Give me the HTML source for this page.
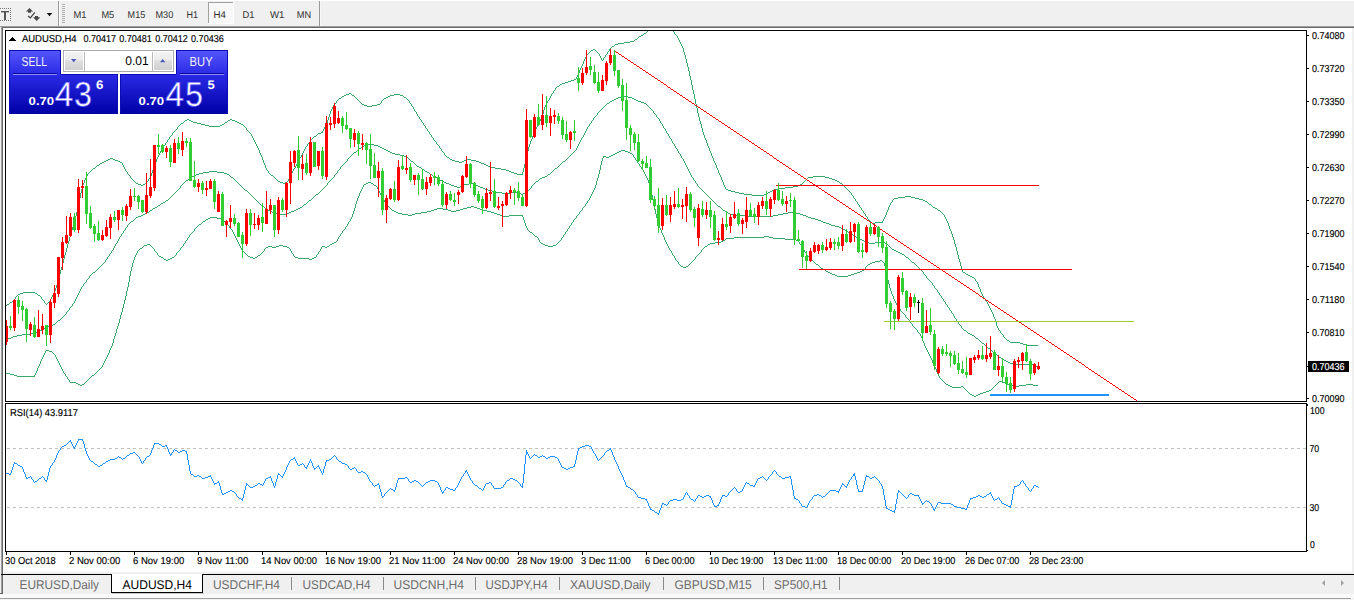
<!DOCTYPE html>
<html><head><meta charset="utf-8"><title>AUDUSD,H4</title>
<style>
html,body{margin:0;padding:0;background:#fff;}
body{width:1354px;height:600px;position:relative;overflow:hidden;font-family:"Liberation Sans",sans-serif;}
svg{position:absolute;left:0;top:0;display:block;}
text{font-family:"Liberation Sans",sans-serif;text-rendering:geometricPrecision;}
.s{font-size:10px;fill:#000;stroke:#000;stroke-width:0.15px;}
.tb{font-size:9.8px;fill:#303030;}
.tab{font-size:12.6px;fill:#6d6d6d;}
</style></head><body>
<svg width="1354" height="600" viewBox="0 0 1354 600">
<defs>
<clipPath id="cm"><rect x="6" y="31" width="1300" height="370"/></clipPath>
<clipPath id="cr"><rect x="6" y="404" width="1300" height="147"/></clipPath>
<linearGradient id="gb" x1="0" y1="0" x2="0" y2="1">
<stop offset="0" stop-color="#5656fb"/><stop offset="0.38" stop-color="#2a2ae6"/><stop offset="1" stop-color="#0000a6"/></linearGradient>
<linearGradient id="gbU" gradientUnits="userSpaceOnUse" x1="0" y1="50" x2="0" y2="114">
<stop offset="0" stop-color="#5656fb"/><stop offset="0.38" stop-color="#2a2ae6"/><stop offset="1" stop-color="#0000a6"/></linearGradient>
<linearGradient id="gs" x1="0" y1="0" x2="0" y2="1">
<stop offset="0" stop-color="#f3f3f3"/><stop offset="0.42" stop-color="#ebebeb"/><stop offset="0.5" stop-color="#dedede"/><stop offset="1" stop-color="#d0d0d0"/></linearGradient>
</defs>

<g shape-rendering="crispEdges">
<rect x="0" y="0" width="1354" height="26" fill="#f0f0f0"/>
<rect x="0" y="0" width="1354" height="1" fill="#fff"/>
<rect x="0" y="26" width="1354" height="1" fill="#a0a0a0"/>
<rect x="1" y="27" width="1353" height="1" fill="#696969"/>
<rect x="0" y="27" width="1" height="567" fill="#f0f0f0"/>
<rect x="1" y="27" width="1" height="566" fill="#a0a0a0"/>
<rect x="2" y="28" width="1" height="565" fill="#696969"/>
<rect x="1352" y="28" width="2" height="572" fill="#f0f0f0"/>
<rect x="3" y="572" width="1349" height="2" fill="#f0f0f0"/>
<rect x="1" y="574" width="1353" height="1" fill="#000"/>
<rect x="3" y="575" width="1349" height="19" fill="#f0f0f0"/>
<rect x="0" y="593" width="3" height="1" fill="#696969"/>
<rect x="0" y="594" width="1354" height="4" fill="#fafafa"/>
<rect x="0" y="598" width="1351" height="1" fill="#a0a0a0"/>
<rect x="0" y="599" width="1354" height="1" fill="#f4f4f4"/>
<rect x="112" y="574" width="91" height="19" fill="#fff"/>
<rect x="111" y="574" width="1" height="19" fill="#000"/>
<rect x="202" y="574" width="1" height="19" fill="#000"/>
<rect x="111" y="592" width="92" height="1" fill="#000"/>
<rect x="112" y="593" width="92" height="1" fill="#c8c8c8"/>
<rect x="291" y="577" width="1" height="13" fill="#8a8a8a"/>
<rect x="383" y="577" width="1" height="13" fill="#8a8a8a"/>
<rect x="475" y="577" width="1" height="13" fill="#8a8a8a"/>
<rect x="559" y="577" width="1" height="13" fill="#8a8a8a"/>
<rect x="663" y="577" width="1" height="13" fill="#8a8a8a"/>
<rect x="763" y="577" width="1" height="13" fill="#8a8a8a"/>
<rect x="839" y="577" width="1" height="13" fill="#8a8a8a"/>
<rect x="5" y="30" width="1302" height="1" fill="#000"/>
<rect x="5" y="401" width="1302" height="1" fill="#000"/>
<rect x="5" y="403" width="1302" height="1" fill="#000"/>
<rect x="5" y="551" width="1302" height="1" fill="#000"/>
<rect x="5" y="30" width="1" height="372" fill="#000"/>
<rect x="5" y="403" width="1" height="149" fill="#000"/>
<rect x="1306" y="30" width="1" height="372" fill="#000"/>
<rect x="1306" y="403" width="1" height="149" fill="#000"/>
<rect x="1307" y="35" width="2" height="1" fill="#000"/>
<rect x="1307" y="68" width="2" height="1" fill="#000"/>
<rect x="1307" y="101" width="2" height="1" fill="#000"/>
<rect x="1307" y="134" width="2" height="1" fill="#000"/>
<rect x="1307" y="167" width="2" height="1" fill="#000"/>
<rect x="1307" y="200" width="2" height="1" fill="#000"/>
<rect x="1307" y="233" width="2" height="1" fill="#000"/>
<rect x="1307" y="266" width="2" height="1" fill="#000"/>
<rect x="1307" y="299" width="2" height="1" fill="#000"/>
<rect x="1307" y="332" width="2" height="1" fill="#000"/>
<rect x="1307" y="398" width="2" height="1" fill="#000"/>
<rect x="1307" y="404" width="1" height="2" fill="#000"/>
<rect x="1307" y="550" width="1" height="1" fill="#000"/>
<rect x="6" y="552" width="1" height="3" fill="#000"/>
<rect x="70" y="552" width="1" height="3" fill="#000"/>
<rect x="134" y="552" width="1" height="3" fill="#000"/>
<rect x="198" y="552" width="1" height="3" fill="#000"/>
<rect x="262" y="552" width="1" height="3" fill="#000"/>
<rect x="326" y="552" width="1" height="3" fill="#000"/>
<rect x="390" y="552" width="1" height="3" fill="#000"/>
<rect x="454" y="552" width="1" height="3" fill="#000"/>
<rect x="518" y="552" width="1" height="3" fill="#000"/>
<rect x="582" y="552" width="1" height="3" fill="#000"/>
<rect x="646" y="552" width="1" height="3" fill="#000"/>
<rect x="710" y="552" width="1" height="3" fill="#000"/>
<rect x="774" y="552" width="1" height="3" fill="#000"/>
<rect x="838" y="552" width="1" height="3" fill="#000"/>
<rect x="902" y="552" width="1" height="3" fill="#000"/>
<rect x="966" y="552" width="1" height="3" fill="#000"/>
<rect x="1030" y="552" width="1" height="3" fill="#000"/>
<rect x="1308" y="361" width="41" height="11" fill="#000"/>
<rect x="1307" y="366" width="2" height="1" fill="#000"/>
<rect x="58" y="1" width="1" height="25" fill="#9a9a9a"/><rect x="59" y="1" width="1" height="25" fill="#fff"/>
<rect x="319" y="1" width="1" height="25" fill="#9a9a9a"/><rect x="320" y="1" width="1" height="25" fill="#f8f8f8"/>
<rect x="62" y="4" width="3" height="1" fill="#b0b0b0"/>
<rect x="62" y="6" width="3" height="1" fill="#b0b0b0"/>
<rect x="62" y="8" width="3" height="1" fill="#b0b0b0"/>
<rect x="62" y="10" width="3" height="1" fill="#b0b0b0"/>
<rect x="62" y="12" width="3" height="1" fill="#b0b0b0"/>
<rect x="62" y="14" width="3" height="1" fill="#b0b0b0"/>
<rect x="62" y="16" width="3" height="1" fill="#b0b0b0"/>
<rect x="62" y="18" width="3" height="1" fill="#b0b0b0"/>
<rect x="62" y="20" width="3" height="1" fill="#b0b0b0"/>
<rect x="62" y="22" width="3" height="1" fill="#b0b0b0"/>
<rect x="208" y="2" width="25" height="22" fill="#f8f8f8"/>
<rect x="208" y="2" width="25" height="1" fill="#a0a0a0"/><rect x="208" y="2" width="1" height="22" fill="#a0a0a0"/>
<rect x="208" y="23" width="26" height="1" fill="#fff"/><rect x="233" y="2" width="1" height="22" fill="#fff"/>
</g>
<g shape-rendering="crispEdges" fill="#555">
<rect x="1" y="11" width="8" height="1"/><rect x="1" y="12" width="8" height="1" fill="#b8b8b8"/><rect x="4" y="11" width="2" height="9"/>
<rect x="0" y="8" width="1" height="1" fill="#777"/><rect x="0" y="20" width="1" height="1" fill="#777"/>
<rect x="2" y="8" width="1" height="1" fill="#777"/><rect x="2" y="20" width="1" height="1" fill="#777"/>
<rect x="4" y="8" width="1" height="1" fill="#777"/><rect x="4" y="20" width="1" height="1" fill="#777"/>
<rect x="6" y="8" width="1" height="1" fill="#777"/><rect x="6" y="20" width="1" height="1" fill="#777"/>
<rect x="8" y="8" width="1" height="1" fill="#777"/><rect x="8" y="20" width="1" height="1" fill="#777"/>
<rect x="10" y="8" width="1" height="1" fill="#777"/><rect x="10" y="20" width="1" height="1" fill="#777"/>
<rect x="10" y="8" width="1" height="1" fill="#777"/>
<rect x="10" y="10" width="1" height="1" fill="#777"/>
<rect x="10" y="12" width="1" height="1" fill="#777"/>
<rect x="10" y="14" width="1" height="1" fill="#777"/>
<rect x="10" y="16" width="1" height="1" fill="#777"/>
<rect x="10" y="18" width="1" height="1" fill="#777"/>
<rect x="10" y="20" width="1" height="1" fill="#777"/>
</g>
<g fill="#4a4a4a">
<path d="M29.5 8 L33 11.5 L31 11.5 L31 12.8 L28 12.8 L28 11.5 L26 11.5 Z"/>
<path d="M35 16 L38 16 L38 17.3 L40.3 17.3 L36.7 21 L33 17.3 L35 17.3 Z"/>
<path d="M28 15.9 L30.4 17.8 L34.8 12.4" stroke="#4a4a4a" stroke-width="1.3" fill="none"/>
<path d="M46.7 13 L52.3 13 L49.5 16.2 Z" fill="#111"/>
</g>
<g clip-path="url(#cm)" shape-rendering="crispEdges">
<path d="M509 171h2v1h-2zM491 167h4v1h-4zM919 199h4v1h-4zM793 186h5v1h-5zM108 159h2v1h-2zM113 159h2v1h-2zM450 159h2v1h-2zM466 159h5v1h-5zM97 165h2v1h-2zM486 165h2v1h-2zM933 207h2v1h-2zM562 83h3v1h-3zM514 173h3v1h-3zM752 195h12v1h-12zM488 166h3v1h-3zM314 136h2v1h-2zM728 190h3v1h-3zM772 190h2v1h-2zM20 293h3v1h-3zM35 293h2v1h-2zM511 172h3v1h-3zM813 176h12v1h-12zM318 133h3v1h-3zM209 126h11v1h-11zM630 41h4v1h-4zM23 292h12v1h-12zM639 36h2v1h-2zM201 124h4v1h-4zM222 124h2v1h-2zM241 124h2v1h-2zM731 191h4v1h-4zM770 191h2v1h-2zM102 162h2v1h-2zM120 162h2v1h-2zM459 162h3v1h-3zM479 162h2v1h-2zM104 161h2v1h-2zM118 161h2v1h-2zM455 161h4v1h-4zM462 161h2v1h-2zM476 161h3v1h-3zM205 125h4v1h-4zM220 125h2v1h-2zM875 222h8v1h-8zM106 160h2v1h-2zM115 160h3v1h-3zM452 160h3v1h-3zM464 160h2v1h-2zM471 160h5v1h-5zM93 168h2v1h-2zM495 168h6v1h-6zM38 295h2v1h-2zM364 105h3v1h-3zM372 105h5v1h-5zM339 98h2v1h-2zM384 98h2v1h-2zM136 183h2v1h-2zM283 183h2v1h-2zM840 183h2v1h-2zM963 272h2v1h-2zM832 179h3v1h-3zM612 46h2v1h-2zM138 184h3v1h-3zM143 184h2v1h-2zM800 184h2v1h-2zM726 189h2v1h-2zM774 189h4v1h-4zM344 95h2v1h-2zM352 95h2v1h-2zM390 95h4v1h-4zM400 95h3v1h-3zM624 42h6v1h-6zM342 96h2v1h-2zM388 96h2v1h-2zM506 170h3v1h-3zM191 121h2v1h-2zM235 121h2v1h-2zM447 157h2v1h-2zM185 120h2v1h-2zM189 120h2v1h-2zM228 120h2v1h-2zM232 120h3v1h-3zM517 174h6v1h-6zM280 182h3v1h-3zM285 182h2v1h-2zM1010 342h10v1h-10zM593 49h2v1h-2zM898 197h7v1h-7zM911 197h4v1h-4zM735 192h4v1h-4zM768 192h2v1h-2zM618 43h6v1h-6zM657 23h2v1h-2zM662 23h2v1h-2zM484 164h2v1h-2zM278 181h2v1h-2zM837 181h2v1h-2zM557 86h2v1h-2zM905 196h6v1h-6zM972 277h2v1h-2zM938 210h2v1h-2zM655 24h2v1h-2zM664 24h2v1h-2zM571 80h3v1h-3zM193 122h4v1h-4zM225 122h2v1h-2zM237 122h2v1h-2zM894 198h4v1h-4zM915 198h4v1h-4zM367 106h5v1h-5zM1007 340h2v1h-2zM1027 345h11v1h-11zM778 188h7v1h-7zM835 180h2v1h-2zM829 178h3v1h-3zM785 187h8v1h-8zM346 94h3v1h-3zM394 94h6v1h-6zM615 44h3v1h-3zM362 104h2v1h-2zM377 104h3v1h-3zM966 274h2v1h-2zM110 158h3v1h-3zM501 169h5v1h-5zM349 93h2v1h-2zM187 119h2v1h-2zM230 119h2v1h-2zM1020 343h3v1h-3zM271 175h2v1h-2zM968 275h2v1h-2zM635 39h2v1h-2zM181 123h2v1h-2zM197 123h4v1h-4zM239 123h2v1h-2zM321 132h2v1h-2zM641 35h2v1h-2zM18 294h2v1h-2zM739 193h5v1h-5zM766 193h2v1h-2zM1023 344h4v1h-4zM659 22h3v1h-3zM560 84h2v1h-2zM808 177h5v1h-5zM825 177h4v1h-4zM935 208h2v1h-2zM872 223h3v1h-3zM970 276h2v1h-2zM929 204h2v1h-2zM10 302h2v1h-2zM923 200h2v1h-2zM100 163h2v1h-2zM481 163h3v1h-3zM925 201h2v1h-2zM386 97h2v1h-2zM404 97h2v1h-2zM565 82h3v1h-3zM7 304h2v1h-2zM653 25h2v1h-2zM666 25h2v1h-2zM744 194h8v1h-8zM764 194h2v1h-2zM574 79h2v1h-2zM591 50h2v1h-2zM644 33h2v1h-2zM568 81h3v1h-3zM141 185h2v1h-2zM798 185h2v1h-2zM886 212h1v3h-1zM69 237h1v4h-1zM523 168h1v4h-1zM579 70h1v3h-1zM804 181h1v1h-1zM57 282h1v3h-1zM990 308h1v2h-1zM958 255h1v4h-1zM254 140h1v2h-1zM706 140h1v3h-1zM536 127h1v2h-1zM296 164h1v2h-1zM860 207h1v1h-1zM714 161h1v2h-1zM328 117h1v3h-1zM954 240h1v4h-1zM151 173h1v3h-1zM407 99h1v1h-1zM41 297h1v2h-1zM154 164h1v3h-1zM864 213h1v1h-1zM699 117h1v4h-1zM682 46h1v2h-1zM607 52h1v2h-1zM882 221h1v1h-1zM692 85h1v5h-1zM251 134h1v2h-1zM77 207h1v5h-1zM68 241h1v3h-1zM408 100h1v1h-1zM82 185h1v4h-1zM56 285h1v3h-1zM429 132h1v2h-1zM957 251h1v4h-1zM683 48h1v4h-1zM602 60h1v1h-1zM167 140h1v2h-1zM292 171h1v2h-1zM703 132h1v3h-1zM961 266h1v4h-1zM551 94h1v2h-1zM950 229h1v2h-1zM721 177h1v3h-1zM327 120h1v3h-1zM85 178h1v2h-1zM887 210h1v2h-1zM433 138h1v2h-1zM679 40h1v2h-1zM689 71h1v5h-1zM951 231h1v3h-1zM60 270h1v4h-1zM540 119h1v2h-1zM531 139h1v2h-1zM543 110h1v4h-1zM64 255h1v4h-1zM326 123h1v2h-1zM986 301h1v1h-1zM547 101h1v2h-1zM989 306h1v2h-1zM155 162h1v2h-1zM253 138h1v2h-1zM705 138h1v2h-1zM243 125h1v1h-1zM713 158h1v3h-1zM867 217h1v2h-1zM982 294h1v2h-1zM859 205h1v2h-1zM17 295h1v1h-1zM979 287h1v2h-1zM648 30h1v1h-1zM411 104h1v2h-1zM73 223h1v4h-1zM432 137h1v1h-1zM40 296h1v1h-1zM150 176h1v2h-1zM322 131h1v1h-1zM250 133h1v1h-1zM527 151h1v4h-1zM436 142h1v2h-1zM674 32h1v2h-1zM709 148h1v3h-1zM601 58h1v2h-1zM842 184h1v1h-1zM965 273h1v1h-1zM311 139h1v1h-1zM80 193h1v5h-1zM949 226h1v3h-1zM578 73h1v2h-1zM702 128h1v4h-1zM720 175h1v2h-1zM685 55h1v4h-1zM675 34h1v1h-1zM81 189h1v4h-1zM55 288h1v3h-1zM170 136h1v1h-1zM261 155h1v2h-1zM526 155h1v4h-1zM47 303h1v1h-1zM330 111h1v3h-1zM403 96h1v1h-1zM583 61h1v3h-1zM651 27h1v1h-1zM153 167h1v3h-1zM849 191h1v1h-1zM691 80h1v5h-1zM716 165h1v3h-1zM985 299h1v2h-1zM953 237h1v3h-1zM76 212h1v4h-1zM354 96h1v1h-1zM586 55h1v2h-1zM863 211h1v2h-1zM268 171h1v2h-1zM866 216h1v1h-1zM178 126h1v1h-1zM978 284h1v3h-1zM996 322h1v4h-1zM410 103h1v1h-1zM431 135h1v2h-1zM723 182h1v3h-1zM414 109h1v2h-1zM360 102h1v1h-1zM63 259h1v4h-1zM698 113h1v4h-1zM960 262h1v4h-1zM161 149h1v2h-1zM695 99h1v5h-1zM530 141h1v3h-1zM605 55h1v2h-1zM678 38h1v2h-1zM608 51h1v1h-1zM72 227h1v3h-1zM435 141h1v1h-1zM361 103h1v1h-1zM542 114h1v3h-1zM708 146h1v2h-1zM173 132h1v1h-1zM227 121h1v1h-1zM956 247h1v4h-1zM885 215h1v2h-1zM334 104h1v1h-1zM446 156h1v1h-1zM993 314h1v3h-1zM701 124h1v4h-1zM719 173h1v2h-1zM260 153h1v2h-1zM535 129h1v2h-1zM803 182h1v1h-1zM71 230h1v4h-1zM293 169h1v2h-1zM59 274h1v4h-1zM848 190h1v1h-1zM380 103h1v1h-1zM383 99h1v1h-1zM550 96h1v2h-1zM715 163h1v2h-1zM9 303h1v1h-1zM1000 331h1v2h-1zM54 291h1v2h-1zM409 101h1v2h-1zM417 114h1v2h-1zM310 140h1v2h-1zM681 44h1v2h-1zM134 181h1v1h-1zM1006 339h1v1h-1zM577 75h1v2h-1zM673 31h1v1h-1zM305 147h1v2h-1zM722 180h1v2h-1zM325 125h1v2h-1zM712 156h1v2h-1zM43 300h1v1h-1zM337 100h1v1h-1zM537 125h1v2h-1zM522 172h1v2h-1zM525 159h1v5h-1zM263 160h1v3h-1zM590 51h1v1h-1zM806 179h1v1h-1zM546 103h1v2h-1zM329 114h1v3h-1zM75 216h1v4h-1zM892 200h1v2h-1zM585 57h1v2h-1zM341 97h1v1h-1zM99 164h1v1h-1zM50 299h1v2h-1zM88 173h1v1h-1zM688 67h1v4h-1zM301 155h1v2h-1zM684 52h1v3h-1zM177 127h1v2h-1zM133 180h1v1h-1zM67 244h1v4h-1zM888 207h1v3h-1zM13 300h1v1h-1zM534 131h1v3h-1zM16 296h1v1h-1zM694 94h1v5h-1zM931 205h1v1h-1zM160 151h1v2h-1zM252 136h1v2h-1zM84 180h1v3h-1zM58 278h1v4h-1zM704 135h1v3h-1zM687 63h1v4h-1zM604 57h1v1h-1zM169 137h1v2h-1zM999 330h1v1h-1zM172 133h1v2h-1zM413 107h1v2h-1zM149 178h1v1h-1zM680 42h1v2h-1zM297 162h1v2h-1zM416 112h1v2h-1zM333 105h1v2h-1zM42 299h1v1h-1zM152 170h1v3h-1zM974 278h1v1h-1zM262 157h1v3h-1zM70 234h1v3h-1zM995 319h1v3h-1zM83 183h1v2h-1zM677 36h1v2h-1zM549 98h1v2h-1zM274 177h1v1h-1zM126 171h1v1h-1zM288 179h1v2h-1zM697 108h1v5h-1zM62 263h1v4h-1zM266 168h1v2h-1zM851 193h1v2h-1zM693 90h1v4h-1zM541 117h1v2h-1zM66 248h1v4h-1zM553 91h1v2h-1zM690 76h1v4h-1zM324 127h1v2h-1zM79 198h1v5h-1zM884 217h1v2h-1zM313 137h1v1h-1zM336 101h1v2h-1zM865 214h1v2h-1zM419 117h1v2h-1zM545 105h1v2h-1zM356 98h1v1h-1zM686 59h1v4h-1zM711 153h1v3h-1zM412 106h1v1h-1zM980 289h1v3h-1zM420 119h1v1h-1zM584 59h1v2h-1zM869 220h1v1h-1zM524 164h1v4h-1zM49 301h1v1h-1zM423 123h1v2h-1zM952 234h1v3h-1zM87 174h1v2h-1zM273 176h1v1h-1zM308 143h1v1h-1zM994 317h1v2h-1zM300 157h1v1h-1zM843 185h1v1h-1zM718 170h1v3h-1zM650 28h1v1h-1zM544 107h1v3h-1zM955 244h1v3h-1zM707 143h1v3h-1zM588 53h1v1h-1zM438 145h1v1h-1zM259 150h1v3h-1zM53 293h1v2h-1zM948 223h1v3h-1zM533 134h1v2h-1zM125 169h1v2h-1zM700 121h1v3h-1zM180 124h1v1h-1zM122 163h1v2h-1zM643 34h1v1h-1zM304 149h1v2h-1zM603 58h1v2h-1zM998 328h1v2h-1zM696 104h1v4h-1zM244 126h1v1h-1zM868 219h1v1h-1zM265 165h1v3h-1zM850 192h1v1h-1zM163 146h1v2h-1zM941 212h1v1h-1zM528 147h1v4h-1zM891 202h1v1h-1zM725 187h1v2h-1zM175 130h1v1h-1zM355 97h1v1h-1zM556 87h1v1h-1zM962 270h1v2h-1zM415 111h1v1h-1zM669 27h1v1h-1zM78 203h1v4h-1zM90 171h1v1h-1zM532 136h1v3h-1zM269 173h1v1h-1zM44 301h1v2h-1zM65 252h1v3h-1zM437 144h1v1h-1zM45 303h1v1h-1zM805 180h1v1h-1zM977 282h1v2h-1zM295 166h1v2h-1zM159 153h1v2h-1zM676 35h1v1h-1zM441 149h1v2h-1zM15 297h1v2h-1zM382 100h1v1h-1zM74 220h1v3h-1zM148 179h1v2h-1zM552 93h1v1h-1zM991 310h1v2h-1zM883 219h1v2h-1zM332 107h1v2h-1zM576 77h1v2h-1zM291 173h1v2h-1zM853 196h1v2h-1zM940 211h1v1h-1zM997 326h1v2h-1zM37 294h1v1h-1zM135 182h1v1h-1zM857 202h1v2h-1zM307 144h1v2h-1zM668 26h1v1h-1zM724 185h1v2h-1zM1001 333h1v1h-1zM61 267h1v3h-1zM548 100h1v1h-1zM839 182h1v1h-1zM637 38h1v1h-1zM595 50h1v1h-1zM610 48h1v1h-1zM287 181h1v1h-1zM975 279h1v2h-1zM52 295h1v2h-1zM976 281h1v1h-1zM303 151h1v2h-1zM323 129h1v2h-1zM440 148h1v1h-1zM124 167h1v2h-1zM127 172h1v2h-1zM351 94h1v1h-1zM128 174h1v1h-1zM86 176h1v2h-1zM717 168h1v2h-1zM932 206h1v1h-1zM258 148h1v2h-1zM983 296h1v2h-1zM299 158h1v2h-1zM947 221h1v2h-1zM166 142h1v1h-1zM418 116h1v1h-1zM146 182h1v1h-1zM421 120h1v2h-1zM158 155h1v2h-1zM539 121h1v2h-1zM582 64h1v2h-1zM422 122h1v1h-1zM614 45h1v1h-1zM871 222h1v1h-1zM331 109h1v2h-1zM587 54h1v1h-1zM444 153h1v2h-1zM555 88h1v2h-1zM123 165h1v2h-1zM845 187h1v1h-1zM928 203h1v1h-1zM890 203h1v2h-1zM335 103h1v1h-1zM224 123h1v1h-1zM807 178h1v1h-1zM246 128h1v2h-1zM606 54h1v1h-1zM852 195h1v1h-1zM267 170h1v1h-1zM48 302h1v1h-1zM264 163h1v2h-1zM89 172h1v1h-1zM247 130h1v1h-1zM6 305h1v1h-1zM870 221h1v1h-1zM425 126h1v2h-1zM652 26h1v1h-1zM1004 337h1v1h-1zM357 99h1v1h-1zM439 146h1v2h-1zM290 175h1v2h-1zM275 178h1v1h-1zM992 312h1v2h-1zM298 160h1v2h-1zM162 148h1v1h-1zM165 143h1v2h-1zM92 169h1v1h-1zM609 49h1v2h-1zM174 131h1v1h-1zM257 146h1v2h-1zM946 219h1v2h-1zM855 199h1v2h-1zM131 178h1v1h-1zM338 99h1v1h-1zM51 297h1v2h-1zM1003 335h1v2h-1zM317 134h1v1h-1zM559 85h1v1h-1zM856 201h1v1h-1zM302 153h1v2h-1zM942 213h1v1h-1zM294 168h1v1h-1zM424 125h1v1h-1zM943 214h1v1h-1zM670 28h1v1h-1zM671 29h1v1h-1zM844 186h1v1h-1zM428 131h1v1h-1zM927 202h1v1h-1zM598 53h1v1h-1zM442 151h1v1h-1zM959 259h1v3h-1zM157 157h1v2h-1zM184 121h1v1h-1zM647 31h1v1h-1zM538 123h1v2h-1zM443 152h1v1h-1zM96 166h1v1h-1zM130 176h1v2h-1zM306 146h1v1h-1zM245 127h1v1h-1zM893 199h1v1h-1zM256 144h1v2h-1zM945 217h1v2h-1zM854 198h1v1h-1zM449 158h1v1h-1zM406 98h1v1h-1zM289 177h1v2h-1zM427 129h1v2h-1zM270 174h1v1h-1zM156 159h1v3h-1zM46 304h1v1h-1zM889 205h1v2h-1zM596 51h1v1h-1zM802 183h1v1h-1zM597 52h1v1h-1zM529 144h1v3h-1zM554 90h1v1h-1zM937 209h1v1h-1zM12 301h1v1h-1zM168 139h1v1h-1zM145 183h1v1h-1zM988 304h1v2h-1zM581 66h1v2h-1zM858 204h1v1h-1zM981 292h1v2h-1zM1002 334h1v1h-1zM248 131h1v1h-1zM589 52h1v1h-1zM862 210h1v1h-1zM249 132h1v1h-1zM600 56h1v2h-1zM1009 341h1v1h-1zM445 155h1v1h-1zM129 175h1v1h-1zM309 142h1v1h-1zM312 138h1v1h-1zM277 180h1v1h-1zM861 208h1v2h-1zM984 298h1v1h-1zM987 302h1v2h-1zM847 189h1v1h-1zM255 142h1v2h-1zM944 215h1v2h-1zM381 101h1v2h-1zM426 128h1v1h-1zM649 29h1v1h-1zM710 151h1v2h-1zM176 129h1v1h-1zM179 125h1v1h-1zM599 54h1v2h-1zM430 134h1v1h-1zM164 145h1v1h-1zM359 101h1v1h-1zM91 170h1v1h-1zM634 40h1v1h-1zM580 68h1v2h-1zM611 47h1v1h-1zM846 188h1v1h-1zM646 32h1v1h-1zM95 167h1v1h-1zM171 135h1v1h-1zM316 135h1v1h-1zM132 179h1v1h-1zM1005 338h1v1h-1zM358 100h1v1h-1zM14 299h1v1h-1zM147 181h1v1h-1zM183 122h1v1h-1zM434 140h1v1h-1zM672 30h1v1h-1zM276 179h1v1h-1zM638 37h1v1h-1z" fill="#36a868"/>
<path d="M13 336h4v1h-4zM823 222h3v1h-3zM245 190h2v1h-2zM488 190h4v1h-4zM150 210h2v1h-2zM268 210h2v1h-2zM294 210h2v1h-2zM723 210h2v1h-2zM145 213h2v1h-2zM274 213h3v1h-3zM286 213h3v1h-3zM728 213h2v1h-2zM783 213h5v1h-5zM795 213h5v1h-5zM141 215h2v1h-2zM733 215h13v1h-13zM773 215h5v1h-5zM803 215h3v1h-3zM446 183h3v1h-3zM469 183h5v1h-5zM58 320h2v1h-2zM856 237h2v1h-2zM46 327h2v1h-2zM138 216h3v1h-3zM746 216h27v1h-27zM806 216h2v1h-2zM209 171h8v1h-8zM425 171h2v1h-2zM483 188h2v1h-2zM451 185h3v1h-3zM462 185h2v1h-2zM476 185h2v1h-2zM457 187h3v1h-3zM480 187h3v1h-3zM831 225h4v1h-4zM143 214h2v1h-2zM277 214h9v1h-9zM730 214h3v1h-3zM778 214h5v1h-5zM800 214h3v1h-3zM495 192h7v1h-7zM511 192h6v1h-6zM406 157h2v1h-2zM166 200h2v1h-2zM309 200h2v1h-2zM53 324h2v1h-2zM612 100h2v1h-2zM636 100h2v1h-2zM502 193h9v1h-9zM517 193h4v1h-4zM523 193h2v1h-2zM93 272h2v1h-2zM404 156h2v1h-2zM851 234h2v1h-2zM449 184h2v1h-2zM464 184h5v1h-5zM474 184h2v1h-2zM815 219h3v1h-3zM1013 364h21v1h-21zM203 172h6v1h-6zM217 172h7v1h-7zM427 172h2v1h-2zM42 329h2v1h-2zM454 186h3v1h-3zM460 186h2v1h-2zM478 186h2v1h-2zM22 334h8v1h-8zM970 334h2v1h-2zM368 144h6v1h-6zM199 173h4v1h-4zM224 173h3v1h-3zM304 204h2v1h-2zM388 151h2v1h-2zM270 211h2v1h-2zM291 211h3v1h-3zM442 181h2v1h-2zM536 181h2v1h-2zM843 229h2v1h-2zM11 337h2v1h-2zM30 333h6v1h-6zM968 333h2v1h-2zM190 177h2v1h-2zM231 177h2v1h-2zM435 177h2v1h-2zM542 177h3v1h-3zM364 145h4v1h-4zM374 145h4v1h-4zM419 167h2v1h-2zM362 146h2v1h-2zM378 146h2v1h-2zM17 335h5v1h-5zM972 335h2v1h-2zM38 331h2v1h-2zM492 191h3v1h-3zM526 191h2v1h-2zM444 182h2v1h-2zM718 206h2v1h-2zM641 102h3v1h-3zM147 212h2v1h-2zM272 212h2v1h-2zM289 212h2v1h-2zM726 212h2v1h-2zM788 212h7v1h-7zM614 99h2v1h-2zM634 99h2v1h-2zM906 257h2v1h-2zM186 180h2v1h-2zM440 180h2v1h-2zM380 147h2v1h-2zM864 241h2v1h-2zM359 148h2v1h-2zM382 148h2v1h-2zM411 161h2v1h-2zM563 161h2v1h-2zM392 153h3v1h-3zM48 326h3v1h-3zM196 174h3v1h-3zM227 174h2v1h-2zM430 174h2v1h-2zM548 174h2v1h-2zM316 194h2v1h-2zM521 194h2v1h-2zM866 242h3v1h-3zM875 242h10v1h-10zM818 220h3v1h-3zM1008 362h2v1h-2zM902 254h2v1h-2zM1010 363h3v1h-3zM395 154h5v1h-5zM607 103h2v1h-2zM644 103h2v1h-2zM1002 359h2v1h-2zM854 236h2v1h-2zM826 223h3v1h-3zM860 239h2v1h-2zM894 250h2v1h-2zM384 149h2v1h-2zM438 179h2v1h-2zM158 205h2v1h-2zM261 205h2v1h-2zM869 243h6v1h-6zM885 243h2v1h-2zM51 325h2v1h-2zM829 224h2v1h-2zM155 207h2v1h-2zM300 207h2v1h-2zM841 228h2v1h-2zM417 166h2v1h-2zM192 176h2v1h-2zM433 176h2v1h-2zM545 176h2v1h-2zM846 231h2v1h-2zM982 343h2v1h-2zM485 189h3v1h-3zM618 97h4v1h-4zM628 97h4v1h-4zM40 330h2v1h-2zM964 330h2v1h-2zM858 238h2v1h-2zM811 218h4v1h-4zM898 252h2v1h-2zM161 203h2v1h-2zM153 208h2v1h-2zM298 208h2v1h-2zM616 98h2v1h-2zM632 98h2v1h-2zM6 339h2v1h-2zM555 168h2v1h-2zM862 240h2v1h-2zM194 175h2v1h-2zM1036 366h2v1h-2zM988 348h2v1h-2zM849 233h2v1h-2zM999 357h2v1h-2zM900 253h2v1h-2zM892 249h2v1h-2zM622 96h6v1h-6zM163 202h2v1h-2zM422 169h2v1h-2zM266 209h2v1h-2zM296 209h2v1h-2zM540 178h2v1h-2zM136 217h2v1h-2zM808 217h3v1h-3zM400 155h4v1h-4zM44 328h2v1h-2zM386 150h2v1h-2zM896 251h2v1h-2zM1004 360h2v1h-2zM610 101h2v1h-2zM638 101h3v1h-3zM835 226h4v1h-4zM8 338h3v1h-3zM976 338h2v1h-2zM36 332h2v1h-2zM912 262h2v1h-2zM1006 361h2v1h-2zM354 152h2v1h-2zM390 152h2v1h-2zM131 221h2v1h-2zM821 221h2v1h-2zM839 227h2v1h-2zM1034 365h2v1h-2zM994 353h2v1h-2zM257 201h1v1h-1zM974 336h1v1h-1zM601 109h1v1h-1zM177 190h1v1h-1zM661 123h1v1h-1zM669 136h1v2h-1zM586 129h1v2h-1zM662 124h1v2h-1zM705 193h1v1h-1zM114 246h1v2h-1zM665 129h1v2h-1zM923 272h1v2h-1zM593 118h1v2h-1zM596 115h1v1h-1zM352 154h1v1h-1zM424 170h1v1h-1zM530 188h1v1h-1zM75 299h1v2h-1zM697 184h1v2h-1zM333 177h1v1h-1zM934 286h1v2h-1zM321 190h1v1h-1zM238 183h1v1h-1zM937 290h1v2h-1zM693 178h1v2h-1zM577 146h1v2h-1zM712 200h1v1h-1zM90 275h1v1h-1zM110 253h1v1h-1zM180 186h1v2h-1zM959 324h1v1h-1zM675 146h1v2h-1zM683 159h1v2h-1zM704 192h1v1h-1zM686 165h1v2h-1zM569 156h1v1h-1zM130 222h1v1h-1zM668 134h1v2h-1zM676 148h1v1h-1zM679 153h1v1h-1zM312 198h1v1h-1zM985 345h1v1h-1zM134 219h1v1h-1zM66 312h1v2h-1zM589 124h1v2h-1zM926 276h1v2h-1zM672 141h1v2h-1zM533 184h1v1h-1zM966 331h1v1h-1zM125 228h1v2h-1zM336 173h1v1h-1zM356 151h1v1h-1zM927 278h1v1h-1zM911 261h1v1h-1zM848 232h1v1h-1zM967 332h1v1h-1zM349 157h1v1h-1zM172 195h1v1h-1zM106 259h1v1h-1zM416 165h1v1h-1zM585 131h1v2h-1zM689 171h1v2h-1zM941 296h1v2h-1zM649 107h1v1h-1zM121 234h1v2h-1zM113 248h1v2h-1zM344 163h1v1h-1zM650 108h1v1h-1zM671 139h1v2h-1zM101 265h1v1h-1zM888 245h1v1h-1zM674 144h1v2h-1zM682 158h1v1h-1zM996 354h1v1h-1zM325 186h1v1h-1zM664 128h1v1h-1zM889 246h1v1h-1zM667 133h1v1h-1zM581 138h1v2h-1zM117 241h1v2h-1zM660 121h1v2h-1zM175 192h1v1h-1zM86 280h1v2h-1zM89 276h1v2h-1zM553 170h1v1h-1zM603 107h1v1h-1zM263 206h1v1h-1zM980 341h1v1h-1zM685 163h1v2h-1zM81 287h1v2h-1zM61 318h1v1h-1zM958 322h1v2h-1zM252 196h1v1h-1zM981 342h1v1h-1zM992 351h1v1h-1zM328 182h1v1h-1zM962 328h1v1h-1zM74 301h1v2h-1zM678 151h1v2h-1zM918 267h1v1h-1zM576 148h1v2h-1zM925 275h1v1h-1zM663 126h1v2h-1zM98 268h1v1h-1zM525 192h1v1h-1zM69 308h1v2h-1zM592 120h1v1h-1zM233 178h1v1h-1zM560 164h1v1h-1zM991 350h1v1h-1zM109 254h1v2h-1zM320 191h1v1h-1zM936 289h1v1h-1zM699 187h1v1h-1zM239 184h1v1h-1zM251 195h1v1h-1zM179 188h1v1h-1zM917 266h1v1h-1zM347 159h1v2h-1zM700 188h1v1h-1zM240 185h1v1h-1zM600 110h1v1h-1zM940 295h1v1h-1zM961 326h1v2h-1zM307 202h1v1h-1zM677 149h1v2h-1zM551 172h1v1h-1zM595 116h1v1h-1zM659 119h1v2h-1zM258 202h1v1h-1zM529 189h1v1h-1zM532 185h1v1h-1zM707 195h1v1h-1zM987 347h1v1h-1zM92 273h1v1h-1zM928 279h1v1h-1zM80 289h1v2h-1zM1001 358h1v1h-1zM939 293h1v2h-1zM182 184h1v1h-1zM327 183h1v2h-1zM571 154h1v1h-1zM120 236h1v1h-1zM943 299h1v2h-1zM129 223h1v1h-1zM853 235h1v1h-1zM535 182h1v1h-1zM429 173h1v1h-1zM311 199h1v1h-1zM681 156h1v2h-1zM65 314h1v1h-1zM598 112h1v1h-1zM68 310h1v1h-1zM358 149h1v1h-1zM684 161h1v2h-1zM539 179h1v1h-1zM127 225h1v2h-1zM335 174h1v1h-1zM116 243h1v1h-1zM706 194h1v1h-1zM351 155h1v1h-1zM891 248h1v1h-1zM96 270h1v1h-1zM56 322h1v1h-1zM346 161h1v1h-1zM123 231h1v2h-1zM938 292h1v1h-1zM112 250h1v1h-1zM713 201h1v1h-1zM960 325h1v1h-1zM318 193h1v1h-1zM942 298h1v1h-1zM714 202h1v1h-1zM591 121h1v2h-1zM725 211h1v1h-1zM265 208h1v1h-1zM562 162h1v1h-1zM651 109h1v1h-1zM680 154h1v2h-1zM174 193h1v1h-1zM986 346h1v1h-1zM845 230h1v1h-1zM997 355h1v1h-1zM566 159h1v1h-1zM652 110h1v1h-1zM421 168h1v1h-1zM338 170h1v1h-1zM890 247h1v1h-1zM998 356h1v1h-1zM83 284h1v2h-1zM63 316h1v1h-1zM103 263h1v1h-1zM330 180h1v1h-1zM60 319h1v1h-1zM264 207h1v1h-1zM235 180h1v1h-1zM165 201h1v1h-1zM945 302h1v2h-1zM691 175h1v2h-1zM100 266h1v1h-1zM79 291h1v2h-1zM946 304h1v1h-1zM115 244h1v2h-1zM253 197h1v1h-1zM949 308h1v2h-1zM71 306h1v1h-1zM341 166h1v1h-1zM963 329h1v1h-1zM605 105h1v1h-1zM920 269h1v1h-1zM573 152h1v1h-1zM322 189h1v1h-1zM119 237h1v2h-1zM609 102h1v1h-1zM88 278h1v1h-1zM111 251h1v2h-1zM260 204h1v1h-1zM720 207h1v1h-1zM234 179h1v1h-1zM602 108h1v1h-1zM157 206h1v1h-1zM557 167h1v1h-1zM302 206h1v1h-1zM149 211h1v1h-1zM169 198h1v1h-1zM126 227h1v1h-1zM306 203h1v1h-1zM550 173h1v1h-1zM353 153h1v1h-1zM993 352h1v1h-1zM597 113h1v2h-1zM531 186h1v2h-1zM241 186h1v1h-1zM701 189h1v1h-1zM653 111h1v2h-1zM919 268h1v1h-1zM702 190h1v1h-1zM242 187h1v1h-1zM654 113h1v1h-1zM91 274h1v1h-1zM908 258h1v1h-1zM584 133h1v2h-1zM184 182h1v1h-1zM95 271h1v1h-1zM181 185h1v1h-1zM708 196h1v1h-1zM78 293h1v2h-1zM709 197h1v1h-1zM313 197h1v1h-1zM580 140h1v2h-1zM690 173h1v2h-1zM534 183h1v1h-1zM930 281h1v1h-1zM978 339h1v1h-1zM646 104h1v1h-1zM337 171h1v2h-1zM340 167h1v2h-1zM538 180h1v1h-1zM715 203h1v1h-1zM944 301h1v1h-1zM561 163h1v1h-1zM118 239h1v2h-1zM904 255h1v1h-1zM229 175h1v1h-1zM716 204h1v1h-1zM332 178h1v1h-1zM259 203h1v1h-1zM230 176h1v1h-1zM188 179h1v1h-1zM55 323h1v1h-1zM82 286h1v1h-1zM122 233h1v1h-1zM348 158h1v1h-1zM102 264h1v1h-1zM929 280h1v1h-1zM413 162h1v1h-1zM248 192h1v1h-1zM176 191h1v1h-1zM133 220h1v1h-1zM947 305h1v2h-1zM324 187h1v1h-1zM588 126h1v1h-1zM568 157h1v1h-1zM70 307h1v1h-1zM948 307h1v1h-1zM105 260h1v2h-1zM604 106h1v1h-1zM62 317h1v1h-1zM85 282h1v1h-1zM657 117h1v1h-1zM552 171h1v1h-1zM168 199h1v1h-1zM160 204h1v1h-1zM236 181h1v1h-1zM343 164h1v1h-1zM73 303h1v1h-1zM583 135h1v2h-1zM914 263h1v1h-1zM951 311h1v2h-1zM933 285h1v1h-1zM575 150h1v1h-1zM237 182h1v1h-1zM954 316h1v2h-1zM97 269h1v1h-1zM915 264h1v1h-1zM955 318h1v1h-1zM408 158h1v1h-1zM77 295h1v2h-1zM315 195h1v1h-1zM243 188h1v1h-1zM703 191h1v1h-1zM559 165h1v1h-1zM656 115h1v2h-1zM255 199h1v1h-1zM579 142h1v2h-1zM921 270h1v1h-1zM171 196h1v1h-1zM108 256h1v1h-1zM244 189h1v1h-1zM319 192h1v1h-1zM308 201h1v1h-1zM922 271h1v1h-1zM247 191h1v1h-1zM932 283h1v2h-1zM587 127h1v2h-1zM152 209h1v1h-1zM599 111h1v1h-1zM722 209h1v1h-1zM692 177h1v1h-1zM711 199h1v1h-1zM254 198h1v1h-1zM950 310h1v1h-1zM594 117h1v1h-1zM696 183h1v1h-1zM528 190h1v1h-1zM648 106h1v1h-1zM183 183h1v1h-1zM331 179h1v1h-1zM572 153h1v1h-1zM984 344h1v1h-1zM909 259h1v1h-1zM178 189h1v1h-1zM135 218h1v1h-1zM721 208h1v1h-1zM570 155h1v1h-1zM910 260h1v1h-1zM128 224h1v1h-1zM339 169h1v1h-1zM695 181h1v2h-1zM710 198h1v1h-1zM415 164h1v1h-1zM334 175h1v2h-1zM688 169h1v2h-1zM64 315h1v1h-1zM953 314h1v2h-1zM357 150h1v1h-1zM76 297h1v2h-1zM578 144h1v2h-1zM57 321h1v1h-1zM957 321h1v1h-1zM350 156h1v1h-1zM887 244h1v1h-1zM104 262h1v1h-1zM655 114h1v1h-1zM717 205h1v1h-1zM666 131h1v2h-1zM72 304h1v2h-1zM345 162h1v1h-1zM924 274h1v1h-1zM670 138h1v1h-1zM326 185h1v1h-1zM323 188h1v1h-1zM590 123h1v1h-1zM567 158h1v1h-1zM414 163h1v1h-1zM931 282h1v1h-1zM694 180h1v1h-1zM582 137h1v1h-1zM606 104h1v1h-1zM647 105h1v1h-1zM979 340h1v1h-1zM361 147h1v1h-1zM687 167h1v2h-1zM173 194h1v1h-1zM107 257h1v2h-1zM935 288h1v1h-1zM956 319h1v2h-1zM565 160h1v1h-1zM250 194h1v1h-1zM905 256h1v1h-1zM554 169h1v1h-1zM916 265h1v1h-1zM437 178h1v1h-1zM314 196h1v1h-1zM303 205h1v1h-1zM558 166h1v1h-1zM547 175h1v1h-1zM410 160h1v1h-1zM124 230h1v1h-1zM170 197h1v1h-1zM673 143h1v1h-1zM329 181h1v1h-1zM432 175h1v1h-1zM658 118h1v1h-1zM342 165h1v1h-1zM975 337h1v1h-1zM185 181h1v1h-1zM99 267h1v1h-1zM249 193h1v1h-1zM574 151h1v1h-1zM67 311h1v1h-1zM189 178h1v1h-1zM990 349h1v1h-1zM952 313h1v1h-1zM698 186h1v1h-1zM84 283h1v1h-1zM256 200h1v1h-1zM87 279h1v1h-1zM409 159h1v1h-1z" fill="#36a868"/>
<path d="M258 255h2v1h-2zM268 246h4v1h-4zM276 246h3v1h-3zM283 246h4v1h-4zM322 246h3v1h-3zM327 246h2v1h-2zM548 246h5v1h-5zM705 246h2v1h-2zM334 242h2v1h-2zM715 242h6v1h-6zM208 218h2v1h-2zM217 218h5v1h-5zM621 150h4v1h-4zM986 391h3v1h-3zM785 239h11v1h-11zM332 243h2v1h-2zM541 243h2v1h-2zM710 243h5v1h-5zM471 206h3v1h-3zM144 245h3v1h-3zM279 245h4v1h-4zM545 245h3v1h-3zM553 245h3v1h-3zM503 216h6v1h-6zM872 262h3v1h-3zM140 248h2v1h-2zM828 272h2v1h-2zM857 272h3v1h-3zM402 214h6v1h-6zM412 214h3v1h-3zM497 214h3v1h-3zM398 213h4v1h-4zM415 213h6v1h-6zM494 213h3v1h-3zM952 387h9v1h-9zM950 386h2v1h-2zM961 386h2v1h-2zM1013 386h6v1h-6zM862 270h2v1h-2zM408 215h4v1h-4zM500 215h3v1h-3zM509 215h14v1h-14zM437 208h6v1h-6zM463 208h4v1h-4zM477 208h3v1h-3zM870 263h2v1h-2zM837 276h11v1h-11zM434 209h3v1h-3zM443 209h5v1h-5zM460 209h3v1h-3zM480 209h3v1h-3zM972 395h2v1h-2zM976 395h2v1h-2zM734 237h30v1h-30zM769 237h4v1h-4zM78 384h2v1h-2zM82 384h2v1h-2zM946 384h2v1h-2zM1007 384h3v1h-3zM1026 384h7v1h-7zM14 375h3v1h-3zM92 375h2v1h-2zM49 351h3v1h-3zM80 385h2v1h-2zM948 385h2v1h-2zM1010 385h3v1h-3zM1019 385h7v1h-7zM1033 385h5v1h-5zM210 217h7v1h-7zM683 267h3v1h-3zM617 152h2v1h-2zM628 152h2v1h-2zM832 274h3v1h-3zM851 274h3v1h-3zM199 224h2v1h-2zM166 260h2v1h-2zM880 260h2v1h-2zM394 211h2v1h-2zM427 211h4v1h-4zM451 211h5v1h-5zM487 211h4v1h-4zM816 264h2v1h-2zM868 264h2v1h-2zM392 210h2v1h-2zM431 210h3v1h-3zM448 210h3v1h-3zM456 210h4v1h-4zM483 210h4v1h-4zM161 257h2v1h-2zM172 257h2v1h-2zM250 257h3v1h-3zM255 257h2v1h-2zM295 257h3v1h-3zM314 257h2v1h-2zM726 238h8v1h-8zM773 238h12v1h-12zM467 207h4v1h-4zM474 207h3v1h-3zM830 273h2v1h-2zM854 273h3v1h-3zM721 241h2v1h-2zM619 151h2v1h-2zM625 151h3v1h-3zM17 376h18v1h-18zM723 240h2v1h-2zM796 240h2v1h-2zM164 259h2v1h-2zM168 259h2v1h-2zM309 259h3v1h-3zM613 154h2v1h-2zM70 382h6v1h-6zM1002 382h3v1h-3zM603 156h3v1h-3zM609 156h2v1h-2zM681 266h2v1h-2zM686 266h2v1h-2zM823 269h2v1h-2zM170 258h2v1h-2zM253 258h2v1h-2zM298 258h11v1h-11zM312 258h2v1h-2zM6 373h4v1h-4zM159 256h2v1h-2zM248 256h2v1h-2zM835 275h2v1h-2zM848 275h3v1h-3zM364 184h2v1h-2zM266 247h2v1h-2zM272 247h4v1h-4zM287 247h2v1h-2zM325 247h2v1h-2zM999 381h3v1h-3zM989 390h2v1h-2zM535 236h2v1h-2zM764 236h5v1h-5zM970 394h2v1h-2zM978 394h2v1h-2zM10 374h4v1h-4zM203 221h2v1h-2zM366 183h2v1h-2zM371 183h2v1h-2zM606 157h3v1h-3zM147 244h3v1h-3zM330 244h2v1h-2zM543 244h2v1h-2zM708 244h2v1h-2zM76 383h2v1h-2zM1005 383h2v1h-2zM821 268h2v1h-2zM396 212h2v1h-2zM421 212h6v1h-6zM491 212h3v1h-3zM206 219h2v1h-2zM46 350h3v1h-3zM980 393h3v1h-3zM826 271h2v1h-2zM860 271h2v1h-2zM374 185h2v1h-2zM615 153h2v1h-2zM630 153h2v1h-2zM530 232h2v1h-2zM974 396h2v1h-2zM611 155h2v1h-2zM875 261h5v1h-5zM983 392h3v1h-3zM368 182h3v1h-3zM563 235h1v2h-1zM247 255h1v1h-1zM129 276h1v6h-1zM355 204h1v4h-1zM540 242h1v1h-1zM572 222h1v1h-1zM595 185h1v3h-1zM575 218h1v1h-1zM378 189h1v2h-1zM133 260h1v3h-1zM924 343h1v3h-1zM359 193h1v3h-1zM587 201h1v2h-1zM262 252h1v1h-1zM699 253h1v1h-1zM659 225h1v3h-1zM156 252h1v1h-1zM672 253h1v2h-1zM798 241h1v1h-1zM338 237h1v2h-1zM806 253h1v2h-1zM652 195h1v5h-1zM600 165h1v5h-1zM347 224h1v2h-1zM526 226h1v2h-1zM669 248h1v2h-1zM644 172h1v2h-1zM182 246h1v1h-1zM802 247h1v1h-1zM128 282h1v5h-1zM316 255h1v2h-1zM319 251h1v1h-1zM194 229h1v2h-1zM637 161h1v2h-1zM645 174h1v2h-1zM591 194h1v2h-1zM665 240h1v2h-1zM39 364h1v2h-1zM132 263h1v4h-1zM532 233h1v1h-1zM120 315h1v4h-1zM935 367h1v2h-1zM107 355h1v2h-1zM522 216h1v1h-1zM641 167h1v2h-1zM813 261h1v1h-1zM932 360h1v3h-1zM239 244h1v2h-1zM599 170h1v4h-1zM533 234h1v1h-1zM99 369h1v1h-1zM888 280h1v4h-1zM566 231h1v1h-1zM691 262h1v1h-1zM137 251h1v2h-1zM578 214h1v1h-1zM240 246h1v2h-1zM661 230h1v3h-1zM539 240h1v2h-1zM127 287h1v4h-1zM124 300h1v4h-1zM243 251h1v1h-1zM590 196h1v2h-1zM112 343h1v3h-1zM351 217h1v2h-1zM891 291h1v3h-1zM236 238h1v2h-1zM885 266h1v4h-1zM655 209h1v5h-1zM106 357h1v2h-1zM668 246h1v2h-1zM658 222h1v3h-1zM354 208h1v3h-1zM676 260h1v1h-1zM995 385h1v1h-1zM34 375h1v1h-1zM805 252h1v1h-1zM651 191h1v4h-1zM640 166h1v1h-1zM525 223h1v3h-1zM358 196h1v2h-1zM917 330h1v2h-1zM111 346h1v2h-1zM205 220h1v1h-1zM350 219h1v2h-1zM115 333h1v3h-1zM654 204h1v5h-1zM102 365h1v2h-1zM559 241h1v1h-1zM363 185h1v2h-1zM594 188h1v2h-1zM905 315h1v2h-1zM388 206h1v1h-1zM198 225h1v1h-1zM895 301h1v2h-1zM119 319h1v4h-1zM155 251h1v1h-1zM377 187h1v2h-1zM389 207h1v1h-1zM906 317h1v1h-1zM65 374h1v2h-1zM123 304h1v4h-1zM702 249h1v1h-1zM38 366h1v2h-1zM90 377h1v1h-1zM923 341h1v2h-1zM528 230h1v1h-1zM341 233h1v1h-1zM94 374h1v1h-1zM647 178h1v2h-1zM675 258h1v2h-1zM801 245h1v2h-1zM820 267h1v1h-1zM964 388h1v1h-1zM185 241h1v2h-1zM131 267h1v4h-1zM562 237h1v1h-1zM565 232h1v2h-1zM657 218h1v4h-1zM87 380h1v1h-1zM916 329h1v1h-1zM934 365h1v2h-1zM679 264h1v1h-1zM37 368h1v3h-1zM965 389h1v1h-1zM945 383h1v1h-1zM586 203h1v1h-1zM653 200h1v4h-1zM242 250h1v1h-1zM598 174h1v4h-1zM337 239h1v2h-1zM329 245h1v1h-1zM569 226h1v2h-1zM931 358h1v2h-1zM114 336h1v3h-1zM864 269h1v1h-1zM227 224h1v1h-1zM353 211h1v3h-1zM235 236h1v2h-1zM884 263h1v3h-1zM193 231h1v1h-1zM660 228h1v2h-1zM45 351h1v2h-1zM357 198h1v3h-1zM228 225h1v1h-1zM64 373h1v1h-1zM678 262h1v2h-1zM890 288h1v3h-1zM158 255h1v1h-1zM804 250h1v2h-1zM807 255h1v1h-1zM887 275h1v5h-1zM909 320h1v2h-1zM819 266h1v1h-1zM178 251h1v1h-1zM101 367h1v1h-1zM643 170h1v2h-1zM671 251h1v2h-1zM122 308h1v4h-1zM136 253h1v2h-1zM938 374h1v2h-1zM646 176h1v2h-1zM674 256h1v2h-1zM808 256h1v1h-1zM352 214h1v3h-1zM664 237h1v3h-1zM639 164h1v2h-1zM944 382h1v1h-1zM44 353h1v2h-1zM667 244h1v2h-1zM920 334h1v2h-1zM373 184h1v1h-1zM933 363h1v2h-1zM238 242h1v2h-1zM523 217h1v3h-1zM257 256h1v1h-1zM897 305h1v2h-1zM589 198h1v2h-1zM601 161h1v4h-1zM241 248h1v2h-1zM701 250h1v2h-1zM650 187h1v4h-1zM577 215h1v1h-1zM898 307h1v1h-1zM815 263h1v1h-1zM261 253h1v1h-1zM930 356h1v2h-1zM110 348h1v2h-1zM40 361h1v3h-1zM340 234h1v2h-1zM538 238h1v2h-1zM130 271h1v5h-1zM63 371h1v2h-1zM318 252h1v2h-1zM126 291h1v5h-1zM196 227h1v1h-1zM60 365h1v2h-1zM181 247h1v1h-1zM527 228h1v2h-1zM561 238h1v2h-1zM597 178h1v3h-1zM118 323h1v3h-1zM886 270h1v5h-1zM642 169h1v1h-1zM113 339h1v4h-1zM937 372h1v2h-1zM693 260h1v1h-1zM524 220h1v3h-1zM98 370h1v1h-1zM690 263h1v1h-1zM139 249h1v1h-1zM656 214h1v4h-1zM596 181h1v4h-1zM264 249h1v2h-1zM105 359h1v2h-1zM237 240h1v2h-1zM814 262h1v1h-1zM894 299h1v2h-1zM649 183h1v4h-1zM121 312h1v3h-1zM997 383h1v1h-1zM907 318h1v1h-1zM390 208h1v1h-1zM67 377h1v2h-1zM89 378h1v1h-1zM135 255h1v2h-1zM36 371h1v2h-1zM157 253h1v2h-1zM234 234h1v2h-1zM908 319h1v1h-1zM391 209h1v1h-1zM231 229h1v1h-1zM184 243h1v1h-1zM883 262h1v1h-1zM696 256h1v1h-1zM349 221h1v1h-1zM593 190h1v2h-1zM52 352h1v1h-1zM677 261h1v1h-1zM922 338h1v3h-1zM666 242h1v2h-1zM176 253h1v2h-1zM109 350h1v3h-1zM918 332h1v1h-1zM896 303h1v2h-1zM966 390h1v1h-1zM356 201h1v3h-1zM568 228h1v1h-1zM125 296h1v4h-1zM534 235h1v1h-1zM336 241h1v1h-1zM222 219h1v1h-1zM919 333h1v1h-1zM580 211h1v1h-1zM663 235h1v2h-1zM900 309h1v2h-1zM929 354h1v2h-1zM223 220h1v1h-1zM244 252h1v1h-1zM116 329h1v4h-1zM150 245h1v1h-1zM62 369h1v2h-1zM361 189h1v2h-1zM893 296h1v3h-1zM882 261h1v1h-1zM229 226h1v2h-1zM245 253h1v1h-1zM43 355h1v2h-1zM187 238h1v2h-1zM66 376h1v1h-1zM321 247h1v2h-1zM230 228h1v1h-1zM59 363h1v2h-1zM889 284h1v4h-1zM940 378h1v1h-1zM921 336h1v2h-1zM992 388h1v1h-1zM104 361h1v2h-1zM571 223h1v2h-1zM583 207h1v1h-1zM117 326h1v3h-1zM866 266h1v1h-1zM96 372h1v1h-1zM35 373h1v2h-1zM556 244h1v1h-1zM688 265h1v1h-1zM825 270h1v1h-1zM603 157h1v1h-1zM899 308h1v1h-1zM928 352h1v2h-1zM180 248h1v2h-1zM61 367h1v2h-1zM69 380h1v2h-1zM233 232h1v2h-1zM939 376h1v2h-1zM343 230h1v1h-1zM529 231h1v1h-1zM648 180h1v3h-1zM175 255h1v1h-1zM108 353h1v2h-1zM564 234h1v1h-1zM576 216h1v2h-1zM936 369h1v3h-1zM290 249h1v2h-1zM55 355h1v2h-1zM680 265h1v1h-1zM293 254h1v2h-1zM700 252h1v1h-1zM263 251h1v1h-1zM809 257h1v1h-1zM703 248h1v1h-1zM202 222h1v1h-1zM662 233h1v2h-1zM810 258h1v1h-1zM382 197h1v2h-1zM163 258h1v1h-1zM339 236h1v1h-1zM183 244h1v2h-1zM695 257h1v2h-1zM320 249h1v2h-1zM195 228h1v1h-1zM346 226h1v1h-1zM68 379h1v1h-1zM232 230h1v2h-1zM925 346h1v2h-1zM100 368h1v1h-1zM190 234h1v1h-1zM567 229h1v2h-1zM58 361h1v2h-1zM362 187h1v2h-1zM692 261h1v1h-1zM910 322h1v1h-1zM579 212h1v2h-1zM582 208h1v2h-1zM84 383h1v1h-1zM289 248h1v1h-1zM707 245h1v1h-1zM574 219h1v1h-1zM996 384h1v1h-1zM381 195h1v2h-1zM42 357h1v2h-1zM151 246h1v1h-1zM698 254h1v1h-1zM103 363h1v2h-1zM385 202h1v1h-1zM152 247h1v1h-1zM57 359h1v2h-1zM602 158h1v3h-1zM558 242h1v1h-1zM633 155h1v2h-1zM725 239h1v1h-1zM570 225h1v1h-1zM91 376h1v1h-1zM942 380h1v1h-1zM342 231h1v2h-1zM95 373h1v1h-1zM345 227h1v2h-1zM186 240h1v1h-1zM968 392h1v1h-1zM189 235h1v2h-1zM927 350h1v2h-1zM224 221h1v1h-1zM994 386h1v1h-1zM902 312h1v1h-1zM246 254h1v1h-1zM912 324h1v2h-1zM585 204h1v2h-1zM991 389h1v1h-1zM941 379h1v1h-1zM573 220h1v2h-1zM865 267h1v2h-1zM53 353h1v1h-1zM291 251h1v2h-1zM913 326h1v1h-1zM56 357h1v2h-1zM143 246h1v1h-1zM197 226h1v1h-1zM632 154h1v1h-1zM292 253h1v1h-1zM967 391h1v1h-1zM901 311h1v1h-1zM384 200h1v2h-1zM694 259h1v1h-1zM812 260h1v1h-1zM926 348h1v2h-1zM174 256h1v1h-1zM177 252h1v1h-1zM86 381h1v1h-1zM265 248h1v1h-1zM41 359h1v2h-1zM134 257h1v3h-1zM636 160h1v1h-1zM811 259h1v1h-1zM260 254h1v1h-1zM201 223h1v1h-1zM380 193h1v2h-1zM348 222h1v2h-1zM317 254h1v1h-1zM192 232h1v1h-1zM592 192h1v2h-1zM383 199h1v1h-1zM154 249h1v2h-1zM97 371h1v1h-1zM588 200h1v1h-1zM998 382h1v1h-1zM911 323h1v1h-1zM635 158h1v2h-1zM360 191h1v2h-1zM294 256h1v1h-1zM800 244h1v1h-1zM963 387h1v1h-1zM697 255h1v1h-1zM386 203h1v2h-1zM379 191h1v2h-1zM387 205h1v1h-1zM892 294h1v2h-1zM557 243h1v1h-1zM581 210h1v1h-1zM584 206h1v1h-1zM799 242h1v2h-1zM153 248h1v1h-1zM376 186h1v1h-1zM904 314h1v1h-1zM689 264h1v1h-1zM803 248h1v2h-1zM344 229h1v1h-1zM634 157h1v1h-1zM670 250h1v1h-1zM560 240h1v1h-1zM993 387h1v1h-1zM903 313h1v1h-1zM85 382h1v1h-1zM867 265h1v1h-1zM537 237h1v1h-1zM138 250h1v1h-1zM818 265h1v1h-1zM54 354h1v1h-1zM673 255h1v1h-1zM142 247h1v1h-1zM914 327h1v1h-1zM638 163h1v1h-1zM943 381h1v1h-1zM915 328h1v1h-1zM179 250h1v1h-1zM88 379h1v1h-1zM188 237h1v1h-1zM191 233h1v1h-1zM969 393h1v1h-1zM225 222h1v1h-1zM704 247h1v1h-1zM226 223h1v1h-1z" fill="#36a868"/>
<path d="M1061 350h2v1h-2zM819 188h2v1h-2zM643 70h2v1h-2zM907 247h2v1h-2zM867 220h2v1h-2zM886 233h2v1h-2zM1013 318h2v1h-2zM625 58h2v1h-2zM707 113h2v1h-2zM840 202h2v1h-2zM822 190h2v1h-2zM640 68h2v1h-2zM1016 320h2v1h-2zM795 172h2v1h-2zM755 145h2v1h-2zM837 200h2v1h-2zM970 289h2v1h-2zM728 127h2v1h-2zM770 155h2v1h-2zM1098 375h2v1h-2zM925 259h2v1h-2zM752 143h2v1h-2zM904 245h2v1h-2zM683 97h2v1h-2zM1119 389h2v1h-2zM946 273h2v1h-2zM725 125h2v1h-2zM1079 362h2v1h-2zM858 214h2v1h-2zM877 227h2v1h-2zM1101 377h2v1h-2zM658 80h2v1h-2zM901 243h2v1h-2zM680 95h2v1h-2zM1034 332h2v1h-2zM813 184h2v1h-2zM1116 387h2v1h-2zM1076 360h2v1h-2zM855 212h2v1h-2zM1007 314h2v1h-2zM1049 342h2v1h-2zM661 82h2v1h-2zM989 302h2v1h-2zM807 180h2v1h-2zM1031 330h2v1h-2zM810 182h2v1h-2zM943 271h2v1h-2zM789 168h2v1h-2zM1004 312h2v1h-2zM616 52h2v1h-2zM964 285h2v1h-2zM743 137h2v1h-2zM986 300h2v1h-2zM937 267h2v1h-2zM764 151h2v1h-2zM919 255h2v1h-2zM698 107h2v1h-2zM1052 344h2v1h-2zM1134 399h2v1h-2zM746 139h2v1h-2zM873 224h2v1h-2zM892 237h2v1h-2zM940 269h2v1h-2zM1089 369h2v1h-2zM701 109h2v1h-2zM740 135h2v1h-2zM652 76h2v1h-2zM895 239h2v1h-2zM634 64h2v1h-2zM1070 356h2v1h-2zM695 105h2v1h-2zM828 194h2v1h-2zM1092 371h2v1h-2zM870 222h2v1h-2zM649 74h2v1h-2zM628 60h2v1h-2zM1025 326h2v1h-2zM631 62h2v1h-2zM783 164h2v1h-2zM1067 354h2v1h-2zM998 308h2v1h-2zM825 192h2v1h-2zM958 281h2v1h-2zM716 119h2v1h-2zM980 296h2v1h-2zM758 147h2v1h-2zM1022 324h2v1h-2zM780 162h2v1h-2zM913 251h2v1h-2zM671 89h2v1h-2zM955 279h2v1h-2zM1107 381h2v1h-2zM713 117h2v1h-2zM846 206h2v1h-2zM1110 383h2v1h-2zM928 261h2v1h-2zM686 99h2v1h-2zM1131 397h2v1h-2zM910 249h2v1h-2zM1043 338h2v1h-2zM668 87h2v1h-2zM801 176h2v1h-2zM1104 379h2v1h-2zM843 204h2v1h-2zM931 263h2v1h-2zM1086 367h2v1h-2zM689 101h2v1h-2zM1037 334h2v1h-2zM1040 336h2v1h-2zM798 174h2v1h-2zM622 56h2v1h-2zM973 291h2v1h-2zM992 304h2v1h-2zM731 129h2v1h-2zM861 216h2v1h-2zM619 54h2v1h-2zM976 293h2v1h-2zM995 306h2v1h-2zM774 158h2v1h-2zM1122 391h2v1h-2zM734 131h2v1h-2zM816 186h2v1h-2zM949 275h2v1h-2zM749 141h2v1h-2zM1125 393h2v1h-2zM864 218h2v1h-2zM883 231h2v1h-2zM704 111h2v1h-2zM1058 348h2v1h-2zM664 84h2v1h-2zM637 66h2v1h-2zM880 229h2v1h-2zM792 170h2v1h-2zM1095 373h2v1h-2zM1055 346h2v1h-2zM834 198h2v1h-2zM967 287h2v1h-2zM1028 328h2v1h-2zM767 153h2v1h-2zM786 166h2v1h-2zM1010 316h2v1h-2zM922 257h2v1h-2zM719 121h2v1h-2zM983 298h2v1h-2zM722 123h2v1h-2zM916 253h2v1h-2zM674 91h2v1h-2zM898 241h2v1h-2zM677 93h2v1h-2zM1113 385h2v1h-2zM1073 358h2v1h-2zM852 210h2v1h-2zM1046 340h2v1h-2zM1001 310h2v1h-2zM961 283h2v1h-2zM655 78h2v1h-2zM849 208h2v1h-2zM761 149h2v1h-2zM804 178h2v1h-2zM737 133h2v1h-2zM934 265h2v1h-2zM692 103h2v1h-2zM646 72h2v1h-2zM889 235h2v1h-2zM1064 352h2v1h-2zM1019 322h2v1h-2zM777 160h2v1h-2zM952 277h2v1h-2zM710 115h2v1h-2zM1128 395h2v1h-2zM1082 364h2v1h-2zM831 196h2v1h-2zM1015 319h1v1h-1zM733 130h1v1h-1zM1000 309h1v1h-1zM1027 327h1v1h-1zM966 286h1v1h-1zM773 157h1v1h-1zM739 134h1v1h-1zM724 124h1v1h-1zM988 301h1v1h-1zM700 108h1v1h-1zM948 274h1v1h-1zM666 85h1v1h-1zM994 305h1v1h-1zM933 264h1v1h-1zM712 116h1v1h-1zM706 112h1v1h-1zM936 266h1v1h-1zM875 225h1v1h-1zM673 90h1v1h-1zM921 256h1v1h-1zM633 63h1v1h-1zM660 81h1v1h-1zM679 94h1v1h-1zM882 230h1v1h-1zM1130 396h1v1h-1zM842 203h1v1h-1zM621 55h1v1h-1zM869 221h1v1h-1zM888 234h1v1h-1zM1136 400h1v1h-1zM667 86h1v1h-1zM854 211h1v1h-1zM627 59h1v1h-1zM830 195h1v1h-1zM1078 361h1v1h-1zM1097 374h1v1h-1zM1124 392h1v1h-1zM815 185h1v1h-1zM1063 351h1v1h-1zM876 226h1v1h-1zM1085 366h1v1h-1zM1024 325h1v1h-1zM1051 343h1v1h-1zM797 173h1v1h-1zM763 150h1v1h-1zM782 163h1v1h-1zM809 181h1v1h-1zM1012 317h1v1h-1zM785 165h1v1h-1zM972 290h1v1h-1zM751 142h1v1h-1zM1018 321h1v1h-1zM957 280h1v1h-1zM736 132h1v1h-1zM776 159h1v1h-1zM960 282h1v1h-1zM979 295h1v1h-1zM1006 313h1v1h-1zM945 272h1v1h-1zM718 120h1v1h-1zM657 79h1v1h-1zM703 110h1v1h-1zM927 260h1v1h-1zM645 71h1v1h-1zM912 250h1v1h-1zM691 102h1v1h-1zM685 98h1v1h-1zM651 75h1v1h-1zM915 252h1v1h-1zM1121 390h1v1h-1zM900 242h1v1h-1zM894 238h1v1h-1zM866 219h1v1h-1zM860 215h1v1h-1zM639 67h1v1h-1zM1109 382h1v1h-1zM1075 359h1v1h-1zM1069 355h1v1h-1zM848 207h1v1h-1zM1115 386h1v1h-1zM833 197h1v1h-1zM1039 335h1v1h-1zM1057 347h1v1h-1zM1103 378h1v1h-1zM1042 337h1v1h-1zM821 189h1v1h-1zM800 175h1v1h-1zM1003 311h1v1h-1zM1030 329h1v1h-1zM742 136h1v1h-1zM769 154h1v1h-1zM788 167h1v1h-1zM975 292h1v1h-1zM991 303h1v1h-1zM951 276h1v1h-1zM730 128h1v1h-1zM997 307h1v1h-1zM963 284h1v1h-1zM715 118h1v1h-1zM709 114h1v1h-1zM939 268h1v1h-1zM985 299h1v1h-1zM924 258h1v1h-1zM697 106h1v1h-1zM636 65h1v1h-1zM663 83h1v1h-1zM682 96h1v1h-1zM930 262h1v1h-1zM648 73h1v1h-1zM1133 398h1v1h-1zM906 246h1v1h-1zM624 57h1v1h-1zM872 223h1v1h-1zM891 236h1v1h-1zM918 254h1v1h-1zM857 213h1v1h-1zM670 88h1v1h-1zM630 61h1v1h-1zM615 51h1v1h-1zM1081 363h1v1h-1zM1100 376h1v1h-1zM879 228h1v1h-1zM1127 394h1v1h-1zM1066 353h1v1h-1zM845 205h1v1h-1zM839 201h1v1h-1zM618 53h1v1h-1zM885 232h1v1h-1zM1088 368h1v1h-1zM1054 345h1v1h-1zM1048 341h1v1h-1zM827 193h1v1h-1zM766 152h1v1h-1zM1094 372h1v1h-1zM812 183h1v1h-1zM1036 333h1v1h-1zM754 144h1v1h-1zM1021 323h1v1h-1zM794 171h1v1h-1zM760 148h1v1h-1zM779 161h1v1h-1zM1009 315h1v1h-1zM721 122h1v1h-1zM969 288h1v1h-1zM748 140h1v1h-1zM954 278h1v1h-1zM727 126h1v1h-1zM694 104h1v1h-1zM942 270h1v1h-1zM688 100h1v1h-1zM654 77h1v1h-1zM982 297h1v1h-1zM903 244h1v1h-1zM676 92h1v1h-1zM863 217h1v1h-1zM642 69h1v1h-1zM909 248h1v1h-1zM1112 384h1v1h-1zM851 209h1v1h-1zM1118 388h1v1h-1zM897 240h1v1h-1zM836 199h1v1h-1zM1084 365h1v1h-1zM1060 349h1v1h-1zM1106 380h1v1h-1zM1045 339h1v1h-1zM824 191h1v1h-1zM1072 357h1v1h-1zM1091 370h1v1h-1zM818 187h1v1h-1zM803 177h1v1h-1zM1033 331h1v1h-1zM806 179h1v1h-1zM745 138h1v1h-1zM772 156h1v1h-1zM791 169h1v1h-1zM978 294h1v1h-1zM757 146h1v1h-1z" fill="#ff0000"/>
<rect x="776" y="185" width="263" height="1" fill="#ff0000"/>
<rect x="799" y="269" width="273" height="1" fill="#ff0000"/>
<rect x="884" y="321" width="250" height="1" fill="#9acd32"/>
<rect x="990" y="394" width="119" height="2" fill="#1e90ff"/>
<rect x="6" y="320" width="1" height="25" fill="#ff0000"/>
<rect x="5" y="326" width="3" height="16" fill="#ff0000"/>
<rect x="10" y="316" width="1" height="14" fill="#32cd32"/>
<rect x="9" y="326" width="3" height="2" fill="#32cd32"/>
<rect x="14" y="299" width="1" height="32" fill="#ff0000"/>
<rect x="13" y="300" width="3" height="28" fill="#ff0000"/>
<rect x="18" y="296" width="1" height="18" fill="#32cd32"/>
<rect x="17" y="300" width="3" height="7" fill="#32cd32"/>
<rect x="22" y="301" width="1" height="20" fill="#32cd32"/>
<rect x="21" y="306" width="3" height="4" fill="#32cd32"/>
<rect x="26" y="308" width="1" height="34" fill="#32cd32"/>
<rect x="25" y="309" width="3" height="20" fill="#32cd32"/>
<rect x="30" y="322" width="1" height="14" fill="#ff0000"/>
<rect x="29" y="324" width="3" height="6" fill="#ff0000"/>
<rect x="34" y="317" width="1" height="21" fill="#32cd32"/>
<rect x="33" y="325" width="3" height="12" fill="#32cd32"/>
<rect x="38" y="310" width="1" height="27" fill="#ff0000"/>
<rect x="37" y="329" width="3" height="8" fill="#ff0000"/>
<rect x="42" y="314" width="1" height="20" fill="#ff0000"/>
<rect x="41" y="326" width="3" height="4" fill="#ff0000"/>
<rect x="46" y="325" width="1" height="21" fill="#32cd32"/>
<rect x="45" y="325" width="3" height="10" fill="#32cd32"/>
<rect x="50" y="299" width="1" height="44" fill="#ff0000"/>
<rect x="49" y="302" width="3" height="33" fill="#ff0000"/>
<rect x="54" y="285" width="1" height="23" fill="#ff0000"/>
<rect x="53" y="293" width="3" height="10" fill="#ff0000"/>
<rect x="58" y="257" width="1" height="40" fill="#ff0000"/>
<rect x="57" y="257" width="3" height="37" fill="#ff0000"/>
<rect x="62" y="237" width="1" height="33" fill="#ff0000"/>
<rect x="61" y="242" width="3" height="16" fill="#ff0000"/>
<rect x="66" y="216" width="1" height="28" fill="#ff0000"/>
<rect x="65" y="235" width="3" height="8" fill="#ff0000"/>
<rect x="70" y="213" width="1" height="24" fill="#ff0000"/>
<rect x="69" y="217" width="3" height="19" fill="#ff0000"/>
<rect x="74" y="213" width="1" height="19" fill="#32cd32"/>
<rect x="73" y="217" width="3" height="13" fill="#32cd32"/>
<rect x="78" y="179" width="1" height="54" fill="#ff0000"/>
<rect x="77" y="187" width="3" height="43" fill="#ff0000"/>
<rect x="82" y="180" width="1" height="18" fill="#ff0000"/>
<rect x="81" y="186" width="3" height="2" fill="#ff0000"/>
<rect x="86" y="172" width="1" height="52" fill="#32cd32"/>
<rect x="85" y="186" width="3" height="28" fill="#32cd32"/>
<rect x="90" y="206" width="1" height="23" fill="#32cd32"/>
<rect x="89" y="213" width="3" height="15" fill="#32cd32"/>
<rect x="94" y="224" width="1" height="18" fill="#32cd32"/>
<rect x="93" y="226" width="3" height="8" fill="#32cd32"/>
<rect x="98" y="221" width="1" height="20" fill="#32cd32"/>
<rect x="97" y="233" width="3" height="7" fill="#32cd32"/>
<rect x="102" y="230" width="1" height="11" fill="#ff0000"/>
<rect x="101" y="235" width="3" height="5" fill="#ff0000"/>
<rect x="106" y="220" width="1" height="17" fill="#ff0000"/>
<rect x="105" y="227" width="3" height="9" fill="#ff0000"/>
<rect x="110" y="214" width="1" height="25" fill="#ff0000"/>
<rect x="109" y="217" width="3" height="11" fill="#ff0000"/>
<rect x="114" y="211" width="1" height="11" fill="#32cd32"/>
<rect x="113" y="217" width="3" height="3" fill="#32cd32"/>
<rect x="118" y="210" width="1" height="20" fill="#ff0000"/>
<rect x="117" y="210" width="3" height="10" fill="#ff0000"/>
<rect x="122" y="207" width="1" height="14" fill="#32cd32"/>
<rect x="121" y="210" width="3" height="5" fill="#32cd32"/>
<rect x="126" y="204" width="1" height="17" fill="#ff0000"/>
<rect x="125" y="206" width="3" height="10" fill="#ff0000"/>
<rect x="130" y="189" width="1" height="21" fill="#ff0000"/>
<rect x="129" y="196" width="3" height="11" fill="#ff0000"/>
<rect x="134" y="188" width="1" height="13" fill="#32cd32"/>
<rect x="133" y="196" width="3" height="1" fill="#32cd32"/>
<rect x="138" y="195" width="1" height="14" fill="#32cd32"/>
<rect x="137" y="196" width="3" height="6" fill="#32cd32"/>
<rect x="142" y="200" width="1" height="13" fill="#32cd32"/>
<rect x="141" y="200" width="3" height="12" fill="#32cd32"/>
<rect x="146" y="173" width="1" height="41" fill="#ff0000"/>
<rect x="145" y="195" width="3" height="17" fill="#ff0000"/>
<rect x="150" y="159" width="1" height="39" fill="#ff0000"/>
<rect x="149" y="187" width="3" height="9" fill="#ff0000"/>
<rect x="154" y="145" width="1" height="46" fill="#ff0000"/>
<rect x="153" y="145" width="3" height="43" fill="#ff0000"/>
<rect x="158" y="134" width="1" height="20" fill="#32cd32"/>
<rect x="157" y="145" width="3" height="2" fill="#32cd32"/>
<rect x="162" y="144" width="1" height="9" fill="#32cd32"/>
<rect x="161" y="145" width="3" height="7" fill="#32cd32"/>
<rect x="166" y="146" width="1" height="12" fill="#ff0000"/>
<rect x="165" y="148" width="3" height="4" fill="#ff0000"/>
<rect x="170" y="145" width="1" height="22" fill="#32cd32"/>
<rect x="169" y="148" width="3" height="14" fill="#32cd32"/>
<rect x="174" y="139" width="1" height="24" fill="#ff0000"/>
<rect x="173" y="143" width="3" height="20" fill="#ff0000"/>
<rect x="178" y="137" width="1" height="17" fill="#32cd32"/>
<rect x="177" y="143" width="3" height="6" fill="#32cd32"/>
<rect x="182" y="132" width="1" height="24" fill="#ff0000"/>
<rect x="181" y="141" width="3" height="9" fill="#ff0000"/>
<rect x="186" y="138" width="1" height="9" fill="#32cd32"/>
<rect x="185" y="141" width="3" height="2" fill="#32cd32"/>
<rect x="190" y="138" width="1" height="43" fill="#32cd32"/>
<rect x="189" y="142" width="3" height="39" fill="#32cd32"/>
<rect x="194" y="161" width="1" height="27" fill="#32cd32"/>
<rect x="193" y="180" width="3" height="7" fill="#32cd32"/>
<rect x="198" y="179" width="1" height="13" fill="#ff0000"/>
<rect x="197" y="183" width="3" height="4" fill="#ff0000"/>
<rect x="202" y="181" width="1" height="13" fill="#32cd32"/>
<rect x="201" y="183" width="3" height="7" fill="#32cd32"/>
<rect x="206" y="181" width="1" height="15" fill="#ff0000"/>
<rect x="205" y="188" width="3" height="2" fill="#ff0000"/>
<rect x="210" y="179" width="1" height="10" fill="#ff0000"/>
<rect x="209" y="181" width="3" height="8" fill="#ff0000"/>
<rect x="214" y="179" width="1" height="30" fill="#32cd32"/>
<rect x="213" y="181" width="3" height="21" fill="#32cd32"/>
<rect x="218" y="191" width="1" height="21" fill="#ff0000"/>
<rect x="217" y="194" width="3" height="18" fill="#ff0000"/>
<rect x="222" y="192" width="1" height="34" fill="#32cd32"/>
<rect x="221" y="194" width="3" height="32" fill="#32cd32"/>
<rect x="226" y="220" width="1" height="17" fill="#ff0000"/>
<rect x="225" y="221" width="3" height="4" fill="#ff0000"/>
<rect x="230" y="205" width="1" height="23" fill="#ff0000"/>
<rect x="229" y="218" width="3" height="4" fill="#ff0000"/>
<rect x="234" y="214" width="1" height="12" fill="#32cd32"/>
<rect x="233" y="218" width="3" height="6" fill="#32cd32"/>
<rect x="238" y="222" width="1" height="15" fill="#32cd32"/>
<rect x="237" y="223" width="3" height="14" fill="#32cd32"/>
<rect x="242" y="232" width="1" height="26" fill="#32cd32"/>
<rect x="241" y="235" width="3" height="9" fill="#32cd32"/>
<rect x="246" y="209" width="1" height="37" fill="#ff0000"/>
<rect x="245" y="213" width="3" height="31" fill="#ff0000"/>
<rect x="250" y="209" width="1" height="27" fill="#32cd32"/>
<rect x="249" y="213" width="3" height="12" fill="#32cd32"/>
<rect x="254" y="213" width="1" height="16" fill="#ff0000"/>
<rect x="253" y="224" width="3" height="1" fill="#ff0000"/>
<rect x="258" y="215" width="1" height="15" fill="#ff0000"/>
<rect x="257" y="218" width="3" height="7" fill="#ff0000"/>
<rect x="262" y="203" width="1" height="29" fill="#32cd32"/>
<rect x="261" y="217" width="3" height="6" fill="#32cd32"/>
<rect x="266" y="191" width="1" height="33" fill="#ff0000"/>
<rect x="265" y="209" width="3" height="15" fill="#ff0000"/>
<rect x="270" y="199" width="1" height="15" fill="#ff0000"/>
<rect x="269" y="205" width="3" height="5" fill="#ff0000"/>
<rect x="274" y="205" width="1" height="32" fill="#32cd32"/>
<rect x="273" y="205" width="3" height="25" fill="#32cd32"/>
<rect x="278" y="197" width="1" height="37" fill="#ff0000"/>
<rect x="277" y="200" width="3" height="30" fill="#ff0000"/>
<rect x="282" y="198" width="1" height="14" fill="#32cd32"/>
<rect x="281" y="200" width="3" height="10" fill="#32cd32"/>
<rect x="286" y="182" width="1" height="35" fill="#ff0000"/>
<rect x="285" y="183" width="3" height="27" fill="#ff0000"/>
<rect x="290" y="151" width="1" height="53" fill="#ff0000"/>
<rect x="289" y="162" width="3" height="21" fill="#ff0000"/>
<rect x="294" y="150" width="1" height="17" fill="#ff0000"/>
<rect x="293" y="151" width="3" height="12" fill="#ff0000"/>
<rect x="298" y="136" width="1" height="44" fill="#32cd32"/>
<rect x="297" y="150" width="3" height="18" fill="#32cd32"/>
<rect x="302" y="155" width="1" height="25" fill="#ff0000"/>
<rect x="301" y="164" width="3" height="5" fill="#ff0000"/>
<rect x="306" y="154" width="1" height="21" fill="#32cd32"/>
<rect x="305" y="163" width="3" height="10" fill="#32cd32"/>
<rect x="310" y="137" width="1" height="39" fill="#ff0000"/>
<rect x="309" y="142" width="3" height="31" fill="#ff0000"/>
<rect x="314" y="142" width="1" height="25" fill="#32cd32"/>
<rect x="313" y="142" width="3" height="25" fill="#32cd32"/>
<rect x="318" y="151" width="1" height="19" fill="#ff0000"/>
<rect x="317" y="151" width="3" height="15" fill="#ff0000"/>
<rect x="322" y="147" width="1" height="32" fill="#32cd32"/>
<rect x="321" y="151" width="3" height="25" fill="#32cd32"/>
<rect x="326" y="116" width="1" height="64" fill="#ff0000"/>
<rect x="325" y="123" width="3" height="54" fill="#ff0000"/>
<rect x="330" y="117" width="1" height="13" fill="#ff0000"/>
<rect x="329" y="123" width="3" height="2" fill="#ff0000"/>
<rect x="334" y="103" width="1" height="25" fill="#ff0000"/>
<rect x="333" y="106" width="3" height="18" fill="#ff0000"/>
<rect x="338" y="111" width="1" height="13" fill="#ff0000"/>
<rect x="337" y="118" width="3" height="5" fill="#ff0000"/>
<rect x="342" y="116" width="1" height="17" fill="#32cd32"/>
<rect x="341" y="118" width="3" height="8" fill="#32cd32"/>
<rect x="346" y="112" width="1" height="18" fill="#32cd32"/>
<rect x="345" y="125" width="3" height="4" fill="#32cd32"/>
<rect x="350" y="128" width="1" height="20" fill="#32cd32"/>
<rect x="349" y="128" width="3" height="11" fill="#32cd32"/>
<rect x="354" y="129" width="1" height="18" fill="#ff0000"/>
<rect x="353" y="133" width="3" height="7" fill="#ff0000"/>
<rect x="358" y="131" width="1" height="25" fill="#32cd32"/>
<rect x="357" y="133" width="3" height="11" fill="#32cd32"/>
<rect x="362" y="134" width="1" height="16" fill="#ff0000"/>
<rect x="361" y="143" width="3" height="2" fill="#ff0000"/>
<rect x="366" y="142" width="1" height="22" fill="#32cd32"/>
<rect x="365" y="143" width="3" height="7" fill="#32cd32"/>
<rect x="370" y="134" width="1" height="45" fill="#32cd32"/>
<rect x="369" y="149" width="3" height="17" fill="#32cd32"/>
<rect x="374" y="153" width="1" height="25" fill="#32cd32"/>
<rect x="373" y="165" width="3" height="13" fill="#32cd32"/>
<rect x="378" y="162" width="1" height="35" fill="#ff0000"/>
<rect x="377" y="171" width="3" height="7" fill="#ff0000"/>
<rect x="382" y="168" width="1" height="47" fill="#32cd32"/>
<rect x="381" y="171" width="3" height="39" fill="#32cd32"/>
<rect x="386" y="195" width="1" height="28" fill="#ff0000"/>
<rect x="385" y="198" width="3" height="12" fill="#ff0000"/>
<rect x="390" y="188" width="1" height="12" fill="#ff0000"/>
<rect x="389" y="189" width="3" height="10" fill="#ff0000"/>
<rect x="394" y="181" width="1" height="21" fill="#32cd32"/>
<rect x="393" y="189" width="3" height="11" fill="#32cd32"/>
<rect x="398" y="160" width="1" height="41" fill="#ff0000"/>
<rect x="397" y="167" width="3" height="33" fill="#ff0000"/>
<rect x="402" y="156" width="1" height="14" fill="#32cd32"/>
<rect x="401" y="166" width="3" height="3" fill="#32cd32"/>
<rect x="406" y="155" width="1" height="19" fill="#ff0000"/>
<rect x="405" y="168" width="3" height="2" fill="#ff0000"/>
<rect x="410" y="163" width="1" height="19" fill="#32cd32"/>
<rect x="409" y="167" width="3" height="13" fill="#32cd32"/>
<rect x="414" y="175" width="1" height="10" fill="#ff0000"/>
<rect x="413" y="175" width="3" height="5" fill="#ff0000"/>
<rect x="418" y="173" width="1" height="22" fill="#32cd32"/>
<rect x="417" y="175" width="3" height="5" fill="#32cd32"/>
<rect x="422" y="169" width="1" height="21" fill="#32cd32"/>
<rect x="421" y="179" width="3" height="10" fill="#32cd32"/>
<rect x="426" y="177" width="1" height="18" fill="#ff0000"/>
<rect x="425" y="182" width="3" height="7" fill="#ff0000"/>
<rect x="430" y="174" width="1" height="12" fill="#ff0000"/>
<rect x="429" y="177" width="3" height="6" fill="#ff0000"/>
<rect x="434" y="172" width="1" height="13" fill="#32cd32"/>
<rect x="433" y="176" width="3" height="2" fill="#32cd32"/>
<rect x="438" y="175" width="1" height="11" fill="#32cd32"/>
<rect x="437" y="177" width="3" height="7" fill="#32cd32"/>
<rect x="442" y="180" width="1" height="27" fill="#32cd32"/>
<rect x="441" y="184" width="3" height="21" fill="#32cd32"/>
<rect x="446" y="192" width="1" height="17" fill="#ff0000"/>
<rect x="445" y="194" width="3" height="11" fill="#ff0000"/>
<rect x="450" y="191" width="1" height="10" fill="#32cd32"/>
<rect x="449" y="194" width="3" height="6" fill="#32cd32"/>
<rect x="454" y="193" width="1" height="13" fill="#32cd32"/>
<rect x="453" y="200" width="3" height="2" fill="#32cd32"/>
<rect x="458" y="190" width="1" height="14" fill="#ff0000"/>
<rect x="457" y="192" width="3" height="3" fill="#ff0000"/>
<rect x="462" y="175" width="1" height="18" fill="#ff0000"/>
<rect x="461" y="176" width="3" height="16" fill="#ff0000"/>
<rect x="466" y="156" width="1" height="22" fill="#ff0000"/>
<rect x="465" y="164" width="3" height="13" fill="#ff0000"/>
<rect x="470" y="163" width="1" height="25" fill="#32cd32"/>
<rect x="469" y="164" width="3" height="19" fill="#32cd32"/>
<rect x="474" y="182" width="1" height="15" fill="#32cd32"/>
<rect x="473" y="183" width="3" height="12" fill="#32cd32"/>
<rect x="478" y="191" width="1" height="12" fill="#32cd32"/>
<rect x="477" y="194" width="3" height="7" fill="#32cd32"/>
<rect x="482" y="196" width="1" height="18" fill="#32cd32"/>
<rect x="481" y="199" width="3" height="9" fill="#32cd32"/>
<rect x="486" y="188" width="1" height="21" fill="#ff0000"/>
<rect x="485" y="193" width="3" height="15" fill="#ff0000"/>
<rect x="490" y="162" width="1" height="39" fill="#ff0000"/>
<rect x="489" y="192" width="3" height="2" fill="#ff0000"/>
<rect x="494" y="179" width="1" height="29" fill="#32cd32"/>
<rect x="493" y="191" width="3" height="16" fill="#32cd32"/>
<rect x="498" y="197" width="1" height="13" fill="#ff0000"/>
<rect x="497" y="206" width="3" height="2" fill="#ff0000"/>
<rect x="502" y="201" width="1" height="26" fill="#ff0000"/>
<rect x="501" y="204" width="3" height="2" fill="#ff0000"/>
<rect x="506" y="192" width="1" height="14" fill="#ff0000"/>
<rect x="505" y="193" width="3" height="12" fill="#ff0000"/>
<rect x="510" y="186" width="1" height="13" fill="#ff0000"/>
<rect x="509" y="190" width="3" height="3" fill="#ff0000"/>
<rect x="514" y="188" width="1" height="17" fill="#32cd32"/>
<rect x="513" y="190" width="3" height="2" fill="#32cd32"/>
<rect x="518" y="182" width="1" height="19" fill="#32cd32"/>
<rect x="517" y="191" width="3" height="7" fill="#32cd32"/>
<rect x="522" y="195" width="1" height="11" fill="#32cd32"/>
<rect x="521" y="197" width="3" height="9" fill="#32cd32"/>
<rect x="526" y="109" width="1" height="98" fill="#ff0000"/>
<rect x="525" y="120" width="3" height="86" fill="#ff0000"/>
<rect x="530" y="120" width="1" height="18" fill="#32cd32"/>
<rect x="529" y="120" width="3" height="17" fill="#32cd32"/>
<rect x="534" y="114" width="1" height="24" fill="#ff0000"/>
<rect x="533" y="117" width="3" height="20" fill="#ff0000"/>
<rect x="538" y="104" width="1" height="22" fill="#32cd32"/>
<rect x="537" y="117" width="3" height="8" fill="#32cd32"/>
<rect x="542" y="94" width="1" height="36" fill="#ff0000"/>
<rect x="541" y="115" width="3" height="10" fill="#ff0000"/>
<rect x="546" y="96" width="1" height="31" fill="#32cd32"/>
<rect x="545" y="115" width="3" height="8" fill="#32cd32"/>
<rect x="550" y="108" width="1" height="28" fill="#ff0000"/>
<rect x="549" y="116" width="3" height="7" fill="#ff0000"/>
<rect x="554" y="110" width="1" height="14" fill="#ff0000"/>
<rect x="553" y="115" width="3" height="2" fill="#ff0000"/>
<rect x="558" y="113" width="1" height="11" fill="#32cd32"/>
<rect x="557" y="116" width="3" height="5" fill="#32cd32"/>
<rect x="562" y="117" width="1" height="22" fill="#32cd32"/>
<rect x="561" y="120" width="3" height="15" fill="#32cd32"/>
<rect x="566" y="121" width="1" height="21" fill="#32cd32"/>
<rect x="565" y="134" width="3" height="6" fill="#32cd32"/>
<rect x="570" y="131" width="1" height="18" fill="#ff0000"/>
<rect x="569" y="132" width="3" height="8" fill="#ff0000"/>
<rect x="574" y="120" width="1" height="21" fill="#32cd32"/>
<rect x="573" y="131" width="3" height="2" fill="#32cd32"/>
<rect x="578" y="67" width="1" height="24" fill="#32cd32"/>
<rect x="577" y="78" width="3" height="5" fill="#32cd32"/>
<rect x="582" y="68" width="1" height="17" fill="#ff0000"/>
<rect x="581" y="73" width="3" height="10" fill="#ff0000"/>
<rect x="586" y="50" width="1" height="25" fill="#ff0000"/>
<rect x="585" y="67" width="3" height="6" fill="#ff0000"/>
<rect x="590" y="57" width="1" height="18" fill="#32cd32"/>
<rect x="589" y="66" width="3" height="4" fill="#32cd32"/>
<rect x="594" y="65" width="1" height="19" fill="#32cd32"/>
<rect x="593" y="72" width="3" height="11" fill="#32cd32"/>
<rect x="598" y="72" width="1" height="21" fill="#32cd32"/>
<rect x="597" y="82" width="3" height="9" fill="#32cd32"/>
<rect x="602" y="75" width="1" height="16" fill="#ff0000"/>
<rect x="601" y="80" width="3" height="11" fill="#ff0000"/>
<rect x="606" y="61" width="1" height="24" fill="#ff0000"/>
<rect x="605" y="63" width="3" height="18" fill="#ff0000"/>
<rect x="610" y="49" width="1" height="16" fill="#ff0000"/>
<rect x="609" y="55" width="3" height="8" fill="#ff0000"/>
<rect x="614" y="50" width="1" height="26" fill="#32cd32"/>
<rect x="613" y="55" width="3" height="16" fill="#32cd32"/>
<rect x="618" y="70" width="1" height="18" fill="#32cd32"/>
<rect x="617" y="70" width="3" height="16" fill="#32cd32"/>
<rect x="622" y="79" width="1" height="32" fill="#32cd32"/>
<rect x="621" y="85" width="3" height="16" fill="#32cd32"/>
<rect x="626" y="83" width="1" height="57" fill="#32cd32"/>
<rect x="625" y="100" width="3" height="28" fill="#32cd32"/>
<rect x="630" y="125" width="1" height="26" fill="#32cd32"/>
<rect x="629" y="128" width="3" height="7" fill="#32cd32"/>
<rect x="634" y="132" width="1" height="18" fill="#32cd32"/>
<rect x="633" y="134" width="3" height="9" fill="#32cd32"/>
<rect x="638" y="134" width="1" height="28" fill="#32cd32"/>
<rect x="637" y="142" width="3" height="19" fill="#32cd32"/>
<rect x="642" y="159" width="1" height="11" fill="#32cd32"/>
<rect x="641" y="161" width="3" height="3" fill="#32cd32"/>
<rect x="646" y="156" width="1" height="12" fill="#32cd32"/>
<rect x="645" y="163" width="3" height="5" fill="#32cd32"/>
<rect x="650" y="159" width="1" height="44" fill="#32cd32"/>
<rect x="649" y="167" width="3" height="33" fill="#32cd32"/>
<rect x="654" y="196" width="1" height="14" fill="#32cd32"/>
<rect x="653" y="199" width="3" height="7" fill="#32cd32"/>
<rect x="658" y="188" width="1" height="45" fill="#32cd32"/>
<rect x="657" y="205" width="3" height="21" fill="#32cd32"/>
<rect x="662" y="198" width="1" height="32" fill="#ff0000"/>
<rect x="661" y="205" width="3" height="21" fill="#ff0000"/>
<rect x="666" y="195" width="1" height="21" fill="#32cd32"/>
<rect x="665" y="205" width="3" height="10" fill="#32cd32"/>
<rect x="670" y="197" width="1" height="25" fill="#ff0000"/>
<rect x="669" y="205" width="3" height="10" fill="#ff0000"/>
<rect x="674" y="191" width="1" height="18" fill="#ff0000"/>
<rect x="673" y="204" width="3" height="3" fill="#ff0000"/>
<rect x="678" y="188" width="1" height="20" fill="#32cd32"/>
<rect x="677" y="204" width="3" height="3" fill="#32cd32"/>
<rect x="682" y="199" width="1" height="20" fill="#ff0000"/>
<rect x="681" y="205" width="3" height="2" fill="#ff0000"/>
<rect x="686" y="187" width="1" height="35" fill="#ff0000"/>
<rect x="685" y="194" width="3" height="12" fill="#ff0000"/>
<rect x="690" y="192" width="1" height="20" fill="#32cd32"/>
<rect x="689" y="194" width="3" height="16" fill="#32cd32"/>
<rect x="694" y="207" width="1" height="20" fill="#32cd32"/>
<rect x="693" y="209" width="3" height="9" fill="#32cd32"/>
<rect x="698" y="204" width="1" height="42" fill="#ff0000"/>
<rect x="697" y="208" width="3" height="30" fill="#ff0000"/>
<rect x="702" y="201" width="1" height="16" fill="#32cd32"/>
<rect x="701" y="209" width="3" height="6" fill="#32cd32"/>
<rect x="706" y="202" width="1" height="17" fill="#ff0000"/>
<rect x="705" y="210" width="3" height="5" fill="#ff0000"/>
<rect x="710" y="201" width="1" height="27" fill="#32cd32"/>
<rect x="709" y="210" width="3" height="7" fill="#32cd32"/>
<rect x="714" y="211" width="1" height="30" fill="#32cd32"/>
<rect x="713" y="215" width="3" height="25" fill="#32cd32"/>
<rect x="718" y="231" width="1" height="14" fill="#ff0000"/>
<rect x="717" y="238" width="3" height="2" fill="#ff0000"/>
<rect x="722" y="218" width="1" height="23" fill="#ff0000"/>
<rect x="721" y="224" width="3" height="16" fill="#ff0000"/>
<rect x="726" y="211" width="1" height="19" fill="#32cd32"/>
<rect x="725" y="224" width="3" height="3" fill="#32cd32"/>
<rect x="730" y="214" width="1" height="19" fill="#ff0000"/>
<rect x="729" y="217" width="3" height="9" fill="#ff0000"/>
<rect x="734" y="202" width="1" height="17" fill="#ff0000"/>
<rect x="733" y="214" width="3" height="4" fill="#ff0000"/>
<rect x="738" y="209" width="1" height="17" fill="#32cd32"/>
<rect x="737" y="213" width="3" height="11" fill="#32cd32"/>
<rect x="742" y="218" width="1" height="16" fill="#ff0000"/>
<rect x="741" y="220" width="3" height="4" fill="#ff0000"/>
<rect x="746" y="197" width="1" height="31" fill="#ff0000"/>
<rect x="745" y="210" width="3" height="12" fill="#ff0000"/>
<rect x="750" y="203" width="1" height="14" fill="#32cd32"/>
<rect x="749" y="210" width="3" height="6" fill="#32cd32"/>
<rect x="754" y="208" width="1" height="15" fill="#32cd32"/>
<rect x="753" y="214" width="3" height="3" fill="#32cd32"/>
<rect x="758" y="202" width="1" height="23" fill="#ff0000"/>
<rect x="757" y="205" width="3" height="12" fill="#ff0000"/>
<rect x="762" y="197" width="1" height="12" fill="#ff0000"/>
<rect x="761" y="201" width="3" height="5" fill="#ff0000"/>
<rect x="766" y="191" width="1" height="24" fill="#32cd32"/>
<rect x="765" y="201" width="3" height="8" fill="#32cd32"/>
<rect x="770" y="197" width="1" height="20" fill="#ff0000"/>
<rect x="769" y="199" width="3" height="10" fill="#ff0000"/>
<rect x="774" y="189" width="1" height="15" fill="#ff0000"/>
<rect x="773" y="190" width="3" height="10" fill="#ff0000"/>
<rect x="778" y="183" width="1" height="18" fill="#32cd32"/>
<rect x="777" y="190" width="3" height="10" fill="#32cd32"/>
<rect x="782" y="191" width="1" height="15" fill="#32cd32"/>
<rect x="781" y="199" width="3" height="5" fill="#32cd32"/>
<rect x="786" y="196" width="1" height="16" fill="#ff0000"/>
<rect x="785" y="201" width="3" height="3" fill="#ff0000"/>
<rect x="790" y="193" width="1" height="14" fill="#32cd32"/>
<rect x="789" y="200" width="3" height="1" fill="#32cd32"/>
<rect x="794" y="197" width="1" height="48" fill="#32cd32"/>
<rect x="793" y="200" width="3" height="39" fill="#32cd32"/>
<rect x="798" y="230" width="1" height="12" fill="#32cd32"/>
<rect x="797" y="239" width="3" height="2" fill="#32cd32"/>
<rect x="802" y="240" width="1" height="28" fill="#32cd32"/>
<rect x="801" y="241" width="3" height="16" fill="#32cd32"/>
<rect x="806" y="251" width="1" height="18" fill="#32cd32"/>
<rect x="805" y="256" width="3" height="5" fill="#32cd32"/>
<rect x="810" y="248" width="1" height="14" fill="#ff0000"/>
<rect x="809" y="251" width="3" height="10" fill="#ff0000"/>
<rect x="814" y="242" width="1" height="11" fill="#ff0000"/>
<rect x="813" y="245" width="3" height="7" fill="#ff0000"/>
<rect x="818" y="244" width="1" height="10" fill="#ff0000"/>
<rect x="817" y="245" width="3" height="6" fill="#ff0000"/>
<rect x="822" y="242" width="1" height="11" fill="#32cd32"/>
<rect x="821" y="245" width="3" height="5" fill="#32cd32"/>
<rect x="826" y="239" width="1" height="12" fill="#ff0000"/>
<rect x="825" y="247" width="3" height="3" fill="#ff0000"/>
<rect x="830" y="238" width="1" height="12" fill="#ff0000"/>
<rect x="829" y="242" width="3" height="6" fill="#ff0000"/>
<rect x="834" y="239" width="1" height="11" fill="#32cd32"/>
<rect x="833" y="242" width="3" height="2" fill="#32cd32"/>
<rect x="838" y="237" width="1" height="12" fill="#32cd32"/>
<rect x="837" y="242" width="3" height="4" fill="#32cd32"/>
<rect x="842" y="225" width="1" height="26" fill="#ff0000"/>
<rect x="841" y="234" width="3" height="12" fill="#ff0000"/>
<rect x="846" y="229" width="1" height="14" fill="#32cd32"/>
<rect x="845" y="234" width="3" height="8" fill="#32cd32"/>
<rect x="850" y="222" width="1" height="21" fill="#ff0000"/>
<rect x="849" y="231" width="3" height="11" fill="#ff0000"/>
<rect x="854" y="223" width="1" height="19" fill="#ff0000"/>
<rect x="853" y="224" width="3" height="8" fill="#ff0000"/>
<rect x="858" y="222" width="1" height="31" fill="#32cd32"/>
<rect x="857" y="224" width="3" height="28" fill="#32cd32"/>
<rect x="862" y="243" width="1" height="15" fill="#32cd32"/>
<rect x="861" y="250" width="3" height="2" fill="#32cd32"/>
<rect x="866" y="225" width="1" height="28" fill="#ff0000"/>
<rect x="865" y="227" width="3" height="25" fill="#ff0000"/>
<rect x="870" y="223" width="1" height="13" fill="#32cd32"/>
<rect x="869" y="227" width="3" height="7" fill="#32cd32"/>
<rect x="874" y="225" width="1" height="10" fill="#ff0000"/>
<rect x="873" y="227" width="3" height="7" fill="#ff0000"/>
<rect x="878" y="226" width="1" height="21" fill="#32cd32"/>
<rect x="877" y="227" width="3" height="10" fill="#32cd32"/>
<rect x="882" y="233" width="1" height="20" fill="#32cd32"/>
<rect x="881" y="236" width="3" height="12" fill="#32cd32"/>
<rect x="886" y="241" width="1" height="67" fill="#32cd32"/>
<rect x="885" y="247" width="3" height="57" fill="#32cd32"/>
<rect x="890" y="301" width="1" height="28" fill="#32cd32"/>
<rect x="889" y="303" width="3" height="9" fill="#32cd32"/>
<rect x="894" y="309" width="1" height="21" fill="#32cd32"/>
<rect x="893" y="311" width="3" height="8" fill="#32cd32"/>
<rect x="898" y="275" width="1" height="46" fill="#ff0000"/>
<rect x="897" y="277" width="3" height="42" fill="#ff0000"/>
<rect x="902" y="272" width="1" height="23" fill="#32cd32"/>
<rect x="901" y="278" width="3" height="14" fill="#32cd32"/>
<rect x="906" y="290" width="1" height="21" fill="#32cd32"/>
<rect x="905" y="291" width="3" height="17" fill="#32cd32"/>
<rect x="910" y="293" width="1" height="27" fill="#ff0000"/>
<rect x="909" y="297" width="3" height="10" fill="#ff0000"/>
<rect x="914" y="294" width="1" height="13" fill="#32cd32"/>
<rect x="913" y="297" width="3" height="6" fill="#32cd32"/>
<rect x="918" y="300" width="1" height="13" fill="#000"/>
<rect x="917" y="302" width="3" height="1" fill="#000"/>
<rect x="922" y="298" width="1" height="43" fill="#32cd32"/>
<rect x="921" y="303" width="3" height="30" fill="#32cd32"/>
<rect x="926" y="310" width="1" height="23" fill="#ff0000"/>
<rect x="925" y="326" width="3" height="7" fill="#ff0000"/>
<rect x="930" y="308" width="1" height="27" fill="#32cd32"/>
<rect x="929" y="325" width="3" height="7" fill="#32cd32"/>
<rect x="934" y="330" width="1" height="40" fill="#32cd32"/>
<rect x="933" y="334" width="3" height="32" fill="#32cd32"/>
<rect x="938" y="347" width="1" height="27" fill="#ff0000"/>
<rect x="937" y="349" width="3" height="24" fill="#ff0000"/>
<rect x="942" y="346" width="1" height="10" fill="#32cd32"/>
<rect x="941" y="349" width="3" height="5" fill="#32cd32"/>
<rect x="946" y="344" width="1" height="12" fill="#32cd32"/>
<rect x="945" y="352" width="3" height="2" fill="#32cd32"/>
<rect x="950" y="351" width="1" height="16" fill="#32cd32"/>
<rect x="949" y="353" width="3" height="3" fill="#32cd32"/>
<rect x="954" y="351" width="1" height="14" fill="#32cd32"/>
<rect x="953" y="355" width="3" height="9" fill="#32cd32"/>
<rect x="958" y="353" width="1" height="21" fill="#32cd32"/>
<rect x="957" y="363" width="3" height="7" fill="#32cd32"/>
<rect x="962" y="361" width="1" height="13" fill="#32cd32"/>
<rect x="961" y="369" width="3" height="4" fill="#32cd32"/>
<rect x="966" y="357" width="1" height="21" fill="#32cd32"/>
<rect x="965" y="372" width="3" height="3" fill="#32cd32"/>
<rect x="970" y="358" width="1" height="17" fill="#ff0000"/>
<rect x="969" y="358" width="3" height="17" fill="#ff0000"/>
<rect x="974" y="355" width="1" height="8" fill="#ff0000"/>
<rect x="973" y="357" width="3" height="3" fill="#ff0000"/>
<rect x="978" y="350" width="1" height="10" fill="#ff0000"/>
<rect x="977" y="355" width="3" height="3" fill="#ff0000"/>
<rect x="982" y="346" width="1" height="14" fill="#32cd32"/>
<rect x="981" y="355" width="3" height="4" fill="#32cd32"/>
<rect x="986" y="343" width="1" height="19" fill="#ff0000"/>
<rect x="985" y="355" width="3" height="4" fill="#ff0000"/>
<rect x="990" y="336" width="1" height="23" fill="#ff0000"/>
<rect x="989" y="353" width="3" height="4" fill="#ff0000"/>
<rect x="994" y="350" width="1" height="20" fill="#32cd32"/>
<rect x="993" y="352" width="3" height="18" fill="#32cd32"/>
<rect x="998" y="355" width="1" height="21" fill="#ff0000"/>
<rect x="997" y="366" width="3" height="4" fill="#ff0000"/>
<rect x="1002" y="358" width="1" height="24" fill="#32cd32"/>
<rect x="1001" y="366" width="3" height="11" fill="#32cd32"/>
<rect x="1006" y="372" width="1" height="20" fill="#32cd32"/>
<rect x="1005" y="377" width="3" height="7" fill="#32cd32"/>
<rect x="1010" y="377" width="1" height="16" fill="#32cd32"/>
<rect x="1009" y="383" width="3" height="7" fill="#32cd32"/>
<rect x="1014" y="359" width="1" height="33" fill="#ff0000"/>
<rect x="1013" y="361" width="3" height="28" fill="#ff0000"/>
<rect x="1018" y="357" width="1" height="11" fill="#ff0000"/>
<rect x="1017" y="360" width="3" height="2" fill="#ff0000"/>
<rect x="1022" y="352" width="1" height="18" fill="#ff0000"/>
<rect x="1021" y="353" width="3" height="8" fill="#ff0000"/>
<rect x="1026" y="344" width="1" height="18" fill="#32cd32"/>
<rect x="1025" y="352" width="3" height="9" fill="#32cd32"/>
<rect x="1030" y="359" width="1" height="21" fill="#32cd32"/>
<rect x="1029" y="361" width="3" height="13" fill="#32cd32"/>
<rect x="1034" y="363" width="1" height="12" fill="#ff0000"/>
<rect x="1033" y="364" width="3" height="9" fill="#ff0000"/>
<rect x="1038" y="362" width="1" height="8" fill="#ff0000"/>
<rect x="1037" y="366" width="3" height="3" fill="#ff0000"/>
</g>
<g clip-path="url(#cr)" shape-rendering="crispEdges">
<line x1="7" y1="448.5" x2="1306" y2="448.5" stroke="#c0c0c0" stroke-width="1" stroke-dasharray="3 3"/>
<line x1="7" y1="507.5" x2="1306" y2="507.5" stroke="#c0c0c0" stroke-width="1" stroke-dasharray="3 3"/>
<path d="M133 452h2v1h-2zM178 452h2v1h-2zM526 452h2v1h-2zM119 457h2v1h-2zM538 457h2v1h-2zM548 457h2v1h-2zM555 457h2v1h-2zM45 480h2v1h-2zM414 480h2v1h-2zM430 480h5v1h-5zM507 480h2v1h-2zM515 480h2v1h-2zM239 498h2v1h-2zM641 498h4v1h-4zM794 498h2v1h-2zM970 498h3v1h-3zM255 485h2v1h-2zM375 485h2v1h-2zM475 485h2v1h-2zM750 485h3v1h-3zM1017 485h2v1h-2zM1034 485h2v1h-2zM892 511h3v1h-3zM938 502h3v1h-3zM448 488h2v1h-2zM479 488h2v1h-2zM494 488h7v1h-7zM110 459h5v1h-5zM291 459h2v1h-2zM329 459h2v1h-2zM62 446h2v1h-2zM162 446h3v1h-3zM582 446h3v1h-3zM589 446h2v1h-2zM246 484h2v1h-2zM260 484h2v1h-2zM377 484h2v1h-2zM842 484h2v1h-2zM6 473h3v1h-3zM714 506h3v1h-3zM802 506h3v1h-3zM954 506h3v1h-3zM1008 506h3v1h-3zM28 477h2v1h-2zM205 477h3v1h-3zM268 477h3v1h-3zM405 477h2v1h-2zM760 477h2v1h-2zM785 477h4v1h-4zM872 477h2v1h-2zM578 448h2v1h-2zM194 476h3v1h-3zM199 476h2v1h-2zM208 476h3v1h-3zM281 476h2v1h-2zM779 476h2v1h-2zM789 476h2v1h-2zM866 476h3v1h-3zM147 456h2v1h-2zM540 456h2v1h-2zM543 456h2v1h-2zM550 456h5v1h-5zM358 472h3v1h-3zM363 472h2v1h-2zM9 474h2v1h-2zM191 474h2v1h-2zM278 474h2v1h-2zM853 474h2v1h-2zM382 496h2v1h-2zM700 496h2v1h-2zM704 496h2v1h-2zM709 496h2v1h-2zM725 496h2v1h-2zM823 496h2v1h-2zM976 496h2v1h-2zM980 496h2v1h-2zM984 496h2v1h-2zM253 486h2v1h-2zM521 486h2v1h-2zM626 486h2v1h-2zM753 486h2v1h-2zM845 486h2v1h-2zM1014 486h3v1h-3zM1036 486h2v1h-2zM927 501h2v1h-2zM241 499h2v1h-2zM645 499h2v1h-2zM673 499h4v1h-4zM681 499h2v1h-2zM691 499h2v1h-2zM796 499h2v1h-2zM995 499h2v1h-2zM14 463h3v1h-3zM103 463h2v1h-2zM342 463h3v1h-3zM350 469h2v1h-2zM566 469h2v1h-2zM20 466h2v1h-2zM98 466h2v1h-2zM317 466h2v1h-2zM573 466h2v1h-2zM222 494h2v1h-2zM817 494h2v1h-2zM912 494h2v1h-2zM987 494h2v1h-2zM638 497h3v1h-3zM702 497h2v1h-2zM973 497h3v1h-3zM982 497h2v1h-2zM217 482h2v1h-2zM410 482h2v1h-2zM426 482h2v1h-2zM489 482h2v1h-2zM224 493h2v1h-2zM910 493h2v1h-2zM989 493h2v1h-2zM230 490h2v1h-2zM393 490h2v1h-2zM453 490h2v1h-2zM830 490h6v1h-6zM805 507h2v1h-2zM957 507h4v1h-4zM670 500h3v1h-3zM677 500h4v1h-4zM698 495h2v1h-2zM706 495h3v1h-3zM722 495h3v1h-3zM814 495h3v1h-3zM819 495h2v1h-2zM914 495h5v1h-5zM978 495h2v1h-2zM108 460h2v1h-2zM326 460h3v1h-3zM130 453h3v1h-3zM526 453h2v1h-2zM115 458h2v1h-2zM123 458h2v1h-2zM293 458h2v1h-2zM546 458h2v1h-2zM314 468h2v1h-2zM352 468h2v1h-2zM564 468h2v1h-2zM568 468h2v1h-2zM127 455h2v1h-2zM535 455h2v1h-2zM35 481h2v1h-2zM412 481h2v1h-2zM416 481h2v1h-2zM428 481h2v1h-2zM435 481h2v1h-2zM305 467h2v1h-2zM562 467h2v1h-2zM570 467h3v1h-3zM391 489h2v1h-2zM450 489h3v1h-3zM631 489h2v1h-2zM159 444h2v1h-2zM175 450h2v1h-2zM182 450h3v1h-3zM607 450h2v1h-2zM664 504h2v1h-2zM951 504h2v1h-2zM1004 504h2v1h-2zM662 503h2v1h-2zM922 503h2v1h-2zM941 503h10v1h-10zM1002 503h2v1h-2zM95 464h2v1h-2zM300 464h2v1h-2zM345 464h2v1h-2zM26 478h2v1h-2zM39 478h2v1h-2zM202 478h3v1h-3zM266 478h2v1h-2zM398 478h7v1h-7zM510 478h3v1h-3zM758 478h2v1h-2zM782 478h3v1h-3zM870 478h2v1h-2zM886 508h2v1h-2zM961 508h4v1h-4zM214 483h3v1h-3zM258 483h2v1h-2zM486 483h3v1h-3zM747 483h2v1h-2zM170 454h2v1h-2zM228 491h2v1h-2zM232 491h2v1h-2zM740 491h2v1h-2zM836 491h3v1h-3zM858 491h5v1h-5zM898 491h2v1h-2zM180 451h2v1h-2zM185 451h2v1h-2zM250 487h3v1h-3zM446 487h2v1h-2zM501 487h2v1h-2zM628 487h2v1h-2zM650 509h2v1h-2zM888 509h2v1h-2zM933 509h2v1h-2zM965 509h2v1h-2zM91 461h2v1h-2zM106 461h2v1h-2zM339 461h2v1h-2zM197 475h2v1h-2zM853 475h2v1h-2zM717 505h2v1h-2zM1006 505h2v1h-2zM361 471h2v1h-2zM465 471h2v1h-2zM78 439h5v1h-5zM226 492h2v1h-2zM442 492h2v1h-2zM738 492h2v1h-2zM513 479h2v1h-2zM64 445h2v1h-2zM165 445h2v1h-2zM585 445h4v1h-4zM69 441h2v1h-2zM652 510h2v1h-2zM890 510h2v1h-2zM609 449h2v1h-2zM18 465h2v1h-2zM100 465h2v1h-2zM298 465h2v1h-2zM154 443h5v1h-5zM73 447h2v1h-2zM580 447h2v1h-2zM657 513h2v1h-2zM655 512h2v1h-2zM614 457h1v3h-1zM791 479h1v6h-1zM1031 489h1v2h-1zM897 493h1v6h-1zM799 501h1v2h-1zM654 511h1v1h-1zM166 446h1v1h-1zM992 496h1v2h-1zM898 490h1v1h-1zM898 492h1v1h-1zM689 496h1v2h-1zM856 480h1v5h-1zM143 461h1v2h-1zM776 472h1v2h-1zM886 506h1v2h-1zM188 460h1v5h-1zM576 455h1v5h-1zM282 477h1v1h-1zM458 483h1v2h-1zM74 448h1v1h-1zM336 457h1v2h-1zM31 477h1v2h-1zM85 448h1v3h-1zM993 498h1v2h-1zM742 489h1v2h-1zM931 504h1v2h-1zM537 456h1v1h-1zM620 471h1v2h-1zM777 474h1v1h-1zM243 494h1v4h-1zM13 464h1v3h-1zM172 452h1v1h-1zM1038 487h1v1h-1zM904 496h1v1h-1zM275 482h1v4h-1zM770 475h1v1h-1zM484 486h1v2h-1zM621 473h1v2h-1zM849 480h1v2h-1zM885 500h1v6h-1zM59 450h1v1h-1zM560 463h1v2h-1zM287 465h1v2h-1zM841 485h1v2h-1zM882 486h1v3h-1zM685 493h1v2h-1zM905 497h1v1h-1zM264 481h1v2h-1zM969 500h1v3h-1zM465 472h1v1h-1zM71 442h1v2h-1zM635 492h1v2h-1zM575 460h1v4h-1zM457 485h1v2h-1zM262 485h1v1h-1zM909 494h1v1h-1zM792 485h1v5h-1zM396 483h1v4h-1zM525 455h1v9h-1zM688 495h1v1h-1zM135 453h1v1h-1zM388 490h1v1h-1zM12 467h1v3h-1zM149 455h1v1h-1zM491 483h1v2h-1zM526 450h1v2h-1zM526 454h1v1h-1zM274 486h1v2h-1zM483 488h1v2h-1zM809 501h1v2h-1zM920 499h1v2h-1zM286 467h1v3h-1zM78 440h1v1h-1zM86 451h1v3h-1zM503 485h1v2h-1zM613 455h1v2h-1zM506 481h1v1h-1zM768 477h1v2h-1zM89 458h1v2h-1zM244 490h1v4h-1zM331 458h1v1h-1zM1011 500h1v5h-1zM999 498h1v2h-1zM445 488h1v2h-1zM696 498h1v1h-1zM236 494h1v2h-1zM863 485h1v4h-1zM312 463h1v3h-1zM154 444h1v1h-1zM718 504h1v1h-1zM395 487h1v3h-1zM187 454h1v6h-1zM930 503h1v1h-1zM73 446h1v1h-1zM1000 500h1v1h-1zM54 460h1v2h-1zM825 495h1v1h-1zM302 463h1v1h-1zM649 506h1v2h-1zM852 476h1v1h-1zM559 461h1v2h-1zM369 479h1v2h-1zM43 477h1v1h-1zM153 445h1v3h-1zM24 472h1v2h-1zM70 440h1v1h-1zM862 489h1v2h-1zM650 508h1v1h-1zM634 491h1v1h-1zM1030 491h1v1h-1zM529 456h1v2h-1zM309 461h1v2h-1zM855 476h1v4h-1zM50 466h1v2h-1zM687 493h1v2h-1zM919 497h1v2h-1zM1014 487h1v2h-1zM730 491h1v1h-1zM324 466h1v3h-1zM722 496h1v1h-1zM848 482h1v2h-1zM220 486h1v4h-1zM323 469h1v4h-1zM168 449h1v3h-1zM271 478h1v3h-1zM840 487h1v2h-1zM190 471h1v3h-1zM798 500h1v1h-1zM34 482h1v1h-1zM441 490h1v2h-1zM684 495h1v2h-1zM380 489h1v3h-1zM745 483h1v2h-1zM49 468h1v4h-1zM277 475h1v4h-1zM26 477h1v1h-1zM38 479h1v1h-1zM874 476h1v1h-1zM532 456h1v1h-1zM459 481h1v2h-1zM896 499h1v5h-1zM1033 486h1v2h-1zM42 476h1v1h-1zM668 502h1v2h-1zM122 459h1v1h-1zM11 470h1v3h-1zM648 503h1v3h-1zM365 473h1v1h-1zM881 484h1v2h-1zM23 469h1v3h-1zM126 456h1v1h-1zM601 457h1v1h-1zM273 483h1v3h-1zM88 456h1v2h-1zM265 479h1v2h-1zM528 454h1v2h-1zM246 483h1v1h-1zM246 485h1v1h-1zM455 488h1v2h-1zM612 452h1v3h-1zM926 500h1v1h-1zM517 481h1v1h-1zM918 496h1v1h-1zM58 451h1v2h-1zM793 490h1v6h-1zM801 504h1v2h-1zM235 493h1v1h-1zM844 485h1v1h-1zM278 473h1v1h-1zM790 477h1v2h-1zM425 483h1v1h-1zM994 500h1v1h-1zM84 444h1v4h-1zM991 494h1v2h-1zM755 483h1v2h-1zM338 460h1v1h-1zM908 495h1v2h-1zM440 487h1v3h-1zM900 492h1v1h-1zM421 485h1v1h-1zM524 464h1v10h-1zM622 475h1v2h-1zM630 488h1v1h-1zM578 449h1v2h-1zM713 503h1v2h-1zM379 485h1v4h-1zM390 488h1v1h-1zM118 456h1v1h-1zM619 469h1v2h-1zM808 503h1v2h-1zM297 463h1v2h-1zM308 463h1v2h-1zM285 470h1v2h-1zM714 505h1v1h-1zM77 441h1v2h-1zM937 503h1v2h-1zM604 453h1v2h-1zM884 495h1v5h-1zM895 504h1v6h-1zM1013 489h1v5h-1zM695 499h1v2h-1zM616 462h1v2h-1zM597 458h1v2h-1zM637 495h1v2h-1zM577 451h1v4h-1zM523 474h1v9h-1zM189 465h1v6h-1zM201 477h1v1h-1zM87 454h1v2h-1zM493 486h1v2h-1zM53 462h1v1h-1zM807 505h1v2h-1zM858 489h1v2h-1zM288 463h1v2h-1zM234 492h1v1h-1zM767 479h1v1h-1zM744 485h1v2h-1zM851 477h1v2h-1zM319 467h1v2h-1zM998 497h1v1h-1zM800 503h1v1h-1zM778 475h1v1h-1zM1001 501h1v2h-1zM152 448h1v2h-1zM61 447h1v1h-1zM667 504h1v1h-1zM1010 505h1v1h-1zM1010 507h1v1h-1zM869 477h1v1h-1zM763 477h1v1h-1zM712 500h1v3h-1zM44 478h1v2h-1zM732 489h1v1h-1zM462 476h1v1h-1zM304 465h1v2h-1zM481 489h1v1h-1zM721 497h1v2h-1zM296 461h1v2h-1zM25 474h1v3h-1zM368 477h1v2h-1zM387 491h1v1h-1zM242 498h1v1h-1zM242 500h1v1h-1zM839 489h1v2h-1zM151 450h1v3h-1zM505 482h1v2h-1zM1020 482h1v2h-1zM482 490h1v1h-1zM57 453h1v2h-1zM333 456h1v1h-1zM90 460h1v1h-1zM683 497h1v2h-1zM593 451h1v2h-1zM322 473h1v2h-1zM141 461h1v2h-1zM625 482h1v3h-1zM48 472h1v4h-1zM615 460h1v2h-1zM596 456h1v2h-1zM382 497h1v1h-1zM385 493h1v1h-1zM257 484h1v1h-1zM444 490h1v1h-1zM272 481h1v2h-1zM492 485h1v1h-1zM626 485h1v1h-1zM314 469h1v1h-1zM167 447h1v2h-1zM720 499h1v3h-1zM857 485h1v4h-1zM827 493h1v1h-1zM442 493h1v1h-1zM219 483h1v3h-1zM56 455h1v3h-1zM307 465h1v2h-1zM986 495h1v1h-1zM348 466h1v2h-1zM171 453h1v1h-1zM76 443h1v2h-1zM611 450h1v2h-1zM883 489h1v6h-1zM603 455h1v1h-1zM37 480h1v1h-1zM854 473h1v1h-1zM349 468h1v1h-1zM990 492h1v1h-1zM245 486h1v4h-1zM865 477h1v4h-1zM397 480h1v3h-1zM906 498h1v1h-1zM83 441h1v3h-1zM618 466h1v3h-1zM1012 494h1v6h-1zM303 464h1v1h-1zM295 459h1v2h-1zM52 463h1v2h-1zM367 475h1v2h-1zM136 454h1v1h-1zM470 478h1v2h-1zM754 485h1v1h-1zM22 467h1v2h-1zM222 493h1v1h-1zM371 482h1v1h-1zM727 495h1v1h-1zM864 481h1v4h-1zM592 449h1v2h-1zM140 459h1v2h-1zM276 479h1v3h-1zM381 492h1v4h-1zM47 476h1v4h-1zM894 510h1v1h-1zM894 512h1v1h-1zM424 484h1v1h-1zM174 449h1v1h-1zM237 496h1v1h-1zM519 483h1v1h-1zM477 486h1v1h-1zM522 483h1v3h-1zM522 487h1v1h-1zM461 477h1v2h-1zM105 462h1v1h-1zM238 497h1v1h-1zM846 487h1v1h-1zM325 462h1v4h-1zM356 469h1v2h-1zM370 481h1v1h-1zM561 465h1v2h-1zM876 478h1v1h-1zM925 501h1v1h-1zM321 471h1v2h-1zM719 502h1v2h-1zM773 471h1v1h-1zM60 448h1v2h-1zM595 454h1v2h-1zM469 476h1v2h-1zM647 501h1v2h-1zM534 454h1v1h-1zM970 499h1v1h-1zM170 455h1v1h-1zM139 457h1v2h-1zM757 479h1v2h-1zM518 482h1v1h-1zM997 498h1v1h-1zM936 505h1v2h-1zM662 504h1v1h-1zM606 451h1v1h-1zM531 457h1v1h-1zM146 457h1v1h-1zM214 484h1v1h-1zM875 477h1v1h-1zM610 448h1v1h-1zM218 481h1v1h-1zM617 464h1v2h-1zM439 485h1v2h-1zM408 479h1v2h-1zM366 474h1v1h-1zM1024 483h1v1h-1zM711 498h1v2h-1zM221 490h1v3h-1zM765 479h1v1h-1zM67 443h1v1h-1zM829 491h1v1h-1zM598 460h1v1h-1zM97 465h1v1h-1zM661 505h1v3h-1zM821 496h1v1h-1zM55 458h1v2h-1zM306 468h1v1h-1zM173 450h1v2h-1zM591 447h1v2h-1zM320 469h1v2h-1zM82 440h1v1h-1zM822 497h1v1h-1zM594 453h1v1h-1zM646 500h1v1h-1zM624 480h1v2h-1zM313 466h1v2h-1zM666 505h1v1h-1zM161 445h1v1h-1zM263 483h1v2h-1zM734 487h1v1h-1zM347 465h1v1h-1zM901 493h1v1h-1zM422 486h1v1h-1zM389 489h1v1h-1zM150 453h1v2h-1zM810 500h1v1h-1zM17 464h1v1h-1zM772 472h1v2h-1zM1023 481h1v2h-1zM847 484h1v2h-1zM332 457h1v1h-1zM248 485h1v1h-1zM384 494h1v2h-1zM764 478h1v1h-1zM355 468h1v1h-1zM438 483h1v2h-1zM290 460h1v1h-1zM794 496h1v2h-1zM407 478h1v1h-1zM373 485h1v1h-1zM545 457h1v1h-1zM294 457h1v1h-1zM472 481h1v2h-1zM879 481h1v2h-1zM169 452h1v2h-1zM283 474h1v2h-1zM669 501h1v1h-1zM935 507h1v2h-1zM142 463h1v1h-1zM468 474h1v2h-1zM520 484h1v2h-1zM866 475h1v1h-1zM623 477h1v3h-1zM749 484h1v1h-1zM813 496h1v1h-1zM354 467h1v1h-1zM456 487h1v1h-1zM464 473h1v1h-1zM51 465h1v1h-1zM213 481h1v2h-1zM316 467h1v1h-1zM1019 484h1v1h-1zM372 483h1v2h-1zM46 481h1v1h-1zM729 492h1v1h-1zM710 497h1v1h-1zM145 458h1v2h-1zM533 455h1v1h-1zM137 455h1v1h-1zM460 479h1v2h-1zM471 480h1v1h-1zM878 480h1v1h-1zM574 464h1v2h-1zM138 456h1v1h-1zM736 489h1v2h-1zM968 503h1v2h-1zM737 491h1v1h-1zM289 461h1v2h-1zM478 487h1v1h-1zM1022 480h1v1h-1zM270 476h1v1h-1zM30 476h1v1h-1zM1025 484h1v2h-1zM437 482h1v1h-1zM660 508h1v2h-1zM357 471h1v1h-1zM1026 486h1v1h-1zM66 444h1v1h-1zM828 492h1v1h-1zM756 481h1v2h-1zM509 479h1v1h-1zM467 472h1v2h-1zM812 497h1v2h-1zM326 461h1v1h-1zM605 452h1v1h-1zM907 497h1v1h-1zM284 472h1v2h-1zM41 477h1v1h-1zM838 492h1v1h-1zM418 482h1v1h-1zM335 456h1v1h-1zM600 458h1v1h-1zM1032 488h1v1h-1zM212 479h1v2h-1zM953 505h1v1h-1zM903 495h1v1h-1zM694 501h1v1h-1zM934 510h1v1h-1zM967 505h1v3h-1zM125 457h1v1h-1zM193 475h1v1h-1zM102 464h1v1h-1zM877 479h1v1h-1zM743 487h1v2h-1zM409 481h1v1h-1zM558 459h1v2h-1zM659 510h1v3h-1zM485 484h1v2h-1zM473 483h1v1h-1zM850 479h1v1h-1zM922 504h1v1h-1zM733 488h1v1h-1zM463 474h1v2h-1zM474 484h1v1h-1zM686 492h1v1h-1zM280 475h1v1h-1zM334 455h1v1h-1zM311 461h1v2h-1zM728 493h1v2h-1zM771 474h1v1h-1zM774 470h1v1h-1zM929 502h1v1h-1zM72 444h1v2h-1zM386 492h1v1h-1zM902 494h1v1h-1zM693 500h1v1h-1zM504 484h1v1h-1zM33 480h1v2h-1zM775 471h1v1h-1zM211 477h1v2h-1zM933 508h1v1h-1zM129 454h1v1h-1zM766 480h1v1h-1zM1028 488h1v2h-1zM341 462h1v1h-1zM633 490h1v1h-1zM1029 490h1v1h-1zM374 486h1v1h-1zM144 460h1v1h-1zM75 445h1v2h-1zM826 494h1v1h-1zM186 452h1v2h-1zM394 491h1v1h-1zM378 483h1v1h-1zM921 501h1v2h-1zM117 457h1v1h-1zM398 479h1v1h-1zM735 488h1v1h-1zM690 498h1v1h-1zM318 465h1v1h-1zM14 462h1v1h-1zM68 442h1v1h-1zM932 506h1v2h-1zM466 470h1v1h-1zM310 459h1v2h-1zM731 490h1v1h-1zM1021 481h1v1h-1zM697 496h1v2h-1zM94 463h1v1h-1zM249 486h1v1h-1zM658 514h1v1h-1zM769 476h1v1h-1zM557 458h1v1h-1zM880 483h1v1h-1zM443 491h1v1h-1zM423 485h1v1h-1zM781 477h1v1h-1zM121 458h1v1h-1zM842 483h1v1h-1zM93 462h1v1h-1zM419 483h1v1h-1zM10 473h1v1h-1zM599 459h1v1h-1zM337 459h1v1h-1zM32 479h1v1h-1zM420 484h1v1h-1zM966 508h1v1h-1zM924 502h1v1h-1zM542 455h1v1h-1zM762 476h1v1h-1zM177 451h1v1h-1zM811 499h1v1h-1zM1027 487h1v1h-1zM210 475h1v1h-1zM636 494h1v1h-1zM746 482h1v1h-1zM602 456h1v1h-1zM530 458h1v1h-1z" fill="#1e90ff"/>
</g>
<g shape-rendering="crispEdges">
<path d="M9 50H61V74H118V114H9Z" fill="url(#gbU)"/>
<path d="M176 50H228V114H120V74H176Z" fill="url(#gbU)"/>
<path d="M9.5 113.5V50.5H60.5V73.5" fill="none" stroke="#0c0cb4" stroke-width="1"/>
<path d="M61 74.5H117.5V113" fill="none" stroke="#0c0cb4" stroke-width="1"/>
<path d="M176.5 73.5V50.5H227.5V113" fill="none" stroke="#0c0cb4" stroke-width="1"/>
<path d="M120.5 113V74.5H176" fill="none" stroke="#0c0cb4" stroke-width="1"/>
<rect x="13" y="73" width="44" height="1" fill="#0a0aa0"/>
<rect x="180" y="73" width="44" height="1" fill="#0a0aa0"/>
<rect x="13" y="74" width="44" height="1" fill="#8c8cf6"/>
<rect x="180" y="74" width="44" height="1" fill="#8c8cf6"/>
<rect x="63" y="50" width="110" height="21" fill="#fff" stroke="#acacac" stroke-width="1" transform="translate(0.5,0.5)"/>
<rect x="65" y="52" width="18" height="18" fill="url(#gs)"/>
<rect x="84" y="52" width="1" height="19" fill="#b8b8b8"/>
<rect x="154" y="52" width="18" height="18" fill="url(#gs)"/>
<rect x="152" y="52" width="1" height="19" fill="#b8b8b8"/>
</g>
<path d="M71 59 L76.4 59 L73.7 62.2 Z" fill="#4a5ac0"/>
<path d="M160 62.2 L165.4 62.2 L162.7 59 Z" fill="#4a5ac0"/>
<path d="M9 41 L16 41 L12.5 37 Z" fill="#000" shape-rendering="crispEdges"/>
<path d="M1325 580 L1325 586 L1322 583 Z" fill="#a0a0a0"/>
<path d="M1341 580 L1341 586 L1344 583 Z" fill="#a0a0a0"/>
<text class="s" x="22" y="42" textLength="54.6" lengthAdjust="spacingAndGlyphs" >AUDUSD,H4</text>
<text class="s" x="83.4" y="42" textLength="32.6" lengthAdjust="spacingAndGlyphs" >0.70417</text>
<text class="s" x="119.3" y="42" textLength="32.6" lengthAdjust="spacingAndGlyphs" >0.70481</text>
<text class="s" x="155.3" y="42" textLength="32.6" lengthAdjust="spacingAndGlyphs" >0.70412</text>
<text class="s" x="191.1" y="42" textLength="32.6" lengthAdjust="spacingAndGlyphs" >0.70436</text>
<text class="s" x="1312" y="39" textLength="32.5" lengthAdjust="spacingAndGlyphs" >0.74080</text>
<text class="s" x="1312" y="72" textLength="32.5" lengthAdjust="spacingAndGlyphs" >0.73720</text>
<text class="s" x="1312" y="105" textLength="32.5" lengthAdjust="spacingAndGlyphs" >0.73350</text>
<text class="s" x="1312" y="138" textLength="32.5" lengthAdjust="spacingAndGlyphs" >0.72990</text>
<text class="s" x="1312" y="171" textLength="32.5" lengthAdjust="spacingAndGlyphs" >0.72630</text>
<text class="s" x="1312" y="204" textLength="32.5" lengthAdjust="spacingAndGlyphs" >0.72270</text>
<text class="s" x="1312" y="237" textLength="32.5" lengthAdjust="spacingAndGlyphs" >0.71900</text>
<text class="s" x="1312" y="270" textLength="32.5" lengthAdjust="spacingAndGlyphs" >0.71540</text>
<text class="s" x="1312" y="303" textLength="32.5" lengthAdjust="spacingAndGlyphs" >0.71180</text>
<text class="s" x="1312" y="336" textLength="32.5" lengthAdjust="spacingAndGlyphs" >0.70810</text>
<text class="s" x="1312" y="402" textLength="32.5" lengthAdjust="spacingAndGlyphs" >0.70090</text>
<text class="s" x="1312" y="370" textLength="32.5" lengthAdjust="spacingAndGlyphs" style="fill:#fff;stroke:#fff">0.70436</text>
<text class="s" x="1310" y="414" textLength="14.5" lengthAdjust="spacingAndGlyphs" >100</text>
<text class="s" x="1309.5" y="452" textLength="9.7" lengthAdjust="spacingAndGlyphs" >70</text>
<text class="s" x="1309.5" y="511" textLength="9.7" lengthAdjust="spacingAndGlyphs" >30</text>
<text class="s" x="1310" y="548" textLength="4.8" lengthAdjust="spacingAndGlyphs" >0</text>
<text class="s" x="10" y="416" textLength="68" lengthAdjust="spacingAndGlyphs" >RSI(14)&#160;43.9117</text>
<text class="s" x="5" y="564" textLength="50.8" lengthAdjust="spacingAndGlyphs" >30&#160;Oct&#160;2018</text>
<text class="s" x="69" y="564" textLength="51.3" lengthAdjust="spacingAndGlyphs" >2&#160;Nov&#160;00:00</text>
<text class="s" x="133" y="564" textLength="51.3" lengthAdjust="spacingAndGlyphs" >6&#160;Nov&#160;19:00</text>
<text class="s" x="197" y="564" textLength="51.3" lengthAdjust="spacingAndGlyphs" >9&#160;Nov&#160;11:00</text>
<text class="s" x="261" y="564" textLength="56.0" lengthAdjust="spacingAndGlyphs" >14&#160;Nov&#160;00:00</text>
<text class="s" x="325" y="564" textLength="56.0" lengthAdjust="spacingAndGlyphs" >16&#160;Nov&#160;19:00</text>
<text class="s" x="389" y="564" textLength="56.0" lengthAdjust="spacingAndGlyphs" >21&#160;Nov&#160;11:00</text>
<text class="s" x="453" y="564" textLength="56.0" lengthAdjust="spacingAndGlyphs" >24&#160;Nov&#160;00:00</text>
<text class="s" x="517" y="564" textLength="56.0" lengthAdjust="spacingAndGlyphs" >28&#160;Nov&#160;19:00</text>
<text class="s" x="581" y="564" textLength="49.6" lengthAdjust="spacingAndGlyphs" >3&#160;Dec&#160;11:00</text>
<text class="s" x="645" y="564" textLength="49.6" lengthAdjust="spacingAndGlyphs" >6&#160;Dec&#160;00:00</text>
<text class="s" x="709" y="564" textLength="54.4" lengthAdjust="spacingAndGlyphs" >10&#160;Dec&#160;19:00</text>
<text class="s" x="773" y="564" textLength="54.4" lengthAdjust="spacingAndGlyphs" >13&#160;Dec&#160;11:00</text>
<text class="s" x="837" y="564" textLength="54.4" lengthAdjust="spacingAndGlyphs" >18&#160;Dec&#160;00:00</text>
<text class="s" x="901" y="564" textLength="54.4" lengthAdjust="spacingAndGlyphs" >20&#160;Dec&#160;19:00</text>
<text class="s" x="965" y="564" textLength="54.4" lengthAdjust="spacingAndGlyphs" >26&#160;Dec&#160;07:00</text>
<text class="s" x="1029" y="564" textLength="54.4" lengthAdjust="spacingAndGlyphs" >28&#160;Dec&#160;23:00</text>
<text class="tb" x="73.4" y="18" textLength="13.1" lengthAdjust="spacingAndGlyphs" >M1</text>
<text class="tb" x="101.4" y="18" textLength="12.8" lengthAdjust="spacingAndGlyphs" >M5</text>
<text class="tb" x="127.6" y="18" textLength="17.6" lengthAdjust="spacingAndGlyphs" >M15</text>
<text class="tb" x="155.5" y="18" textLength="17.8" lengthAdjust="spacingAndGlyphs" >M30</text>
<text class="tb" x="186.6" y="18" textLength="11.5" lengthAdjust="spacingAndGlyphs" >H1</text>
<text class="tb" x="213.4" y="18" textLength="12.4" lengthAdjust="spacingAndGlyphs" >H4</text>
<text class="tb" x="242.4" y="18" textLength="12" lengthAdjust="spacingAndGlyphs" >D1</text>
<text class="tb" x="269.9" y="18" textLength="14.5" lengthAdjust="spacingAndGlyphs" >W1</text>
<text class="tb" x="296.8" y="18" textLength="14.4" lengthAdjust="spacingAndGlyphs" >MN</text>
<text class="tab" x="19.5" y="589" textLength="79.5" lengthAdjust="spacingAndGlyphs" >EURUSD,Daily</text>
<text class="tab" x="122.5" y="589" textLength="69.5" lengthAdjust="spacingAndGlyphs" style="fill:#000">AUDUSD,H4</text>
<text class="tab" x="213" y="589" textLength="67" lengthAdjust="spacingAndGlyphs" >USDCHF,H4</text>
<text class="tab" x="302.6" y="589" textLength="67.9" lengthAdjust="spacingAndGlyphs" >USDCAD,H4</text>
<text class="tab" x="393.6" y="589" textLength="70.4" lengthAdjust="spacingAndGlyphs" >USDCNH,H4</text>
<text class="tab" x="485.5" y="589" textLength="62.1" lengthAdjust="spacingAndGlyphs" >USDJPY,H4</text>
<text class="tab" x="570" y="589" textLength="80.5" lengthAdjust="spacingAndGlyphs" >XAUUSD,Daily</text>
<text class="tab" x="674.4" y="589" textLength="77.4" lengthAdjust="spacingAndGlyphs" >GBPUSD,M15</text>
<text class="tab" x="774" y="589" textLength="53.6" lengthAdjust="spacingAndGlyphs" >SP500,H1</text>
<text class="s" x="21.5" y="66" textLength="25.5" lengthAdjust="spacingAndGlyphs" style="font-size:13px;fill:#f0f0ff;stroke:none">SELL</text>
<text class="s" x="189.6" y="66" textLength="23" lengthAdjust="spacingAndGlyphs" style="font-size:13px;fill:#f0f0ff;stroke:none">BUY</text>
<text class="s" x="125.3" y="65" textLength="23.4" lengthAdjust="spacingAndGlyphs" style="font-size:12.5px;fill:#000;stroke:none">0.01</text>
<text class="s" x="28.6" y="105" textLength="25.6" lengthAdjust="spacingAndGlyphs" style="font-size:11.5px;font-weight:bold;fill:#fff;stroke:none">0.70</text>
<text class="s" x="138.6" y="105" textLength="25.6" lengthAdjust="spacingAndGlyphs" style="font-size:11.5px;font-weight:bold;fill:#fff;stroke:none">0.70</text>
<text transform="translate(54.8,105.7) scale(0.96,1)" style="font-size:34.5px;fill:#fff;stroke:url(#gbU);stroke-width:0.7px">4</text>
<text transform="translate(74.2,105.7) scale(0.92,1)" style="font-size:34.5px;fill:#fff;stroke:url(#gbU);stroke-width:0.7px">3</text>
<text transform="translate(165.4,105.7) scale(0.96,1)" style="font-size:34.5px;fill:#fff;stroke:url(#gbU);stroke-width:0.7px">4</text>
<text transform="translate(185.2,105.7) scale(0.92,1)" style="font-size:34.5px;fill:#fff;stroke:url(#gbU);stroke-width:0.7px">5</text>
<text class="s" x="96.0" y="89" textLength="7.4" lengthAdjust="spacingAndGlyphs" style="font-size:12.5px;font-weight:bold;fill:#fff;stroke:none">6</text>
<text class="s" x="207.4" y="89" textLength="7.2" lengthAdjust="spacingAndGlyphs" style="font-size:12.5px;font-weight:bold;fill:#fff;stroke:none">5</text>
</svg></body></html>
